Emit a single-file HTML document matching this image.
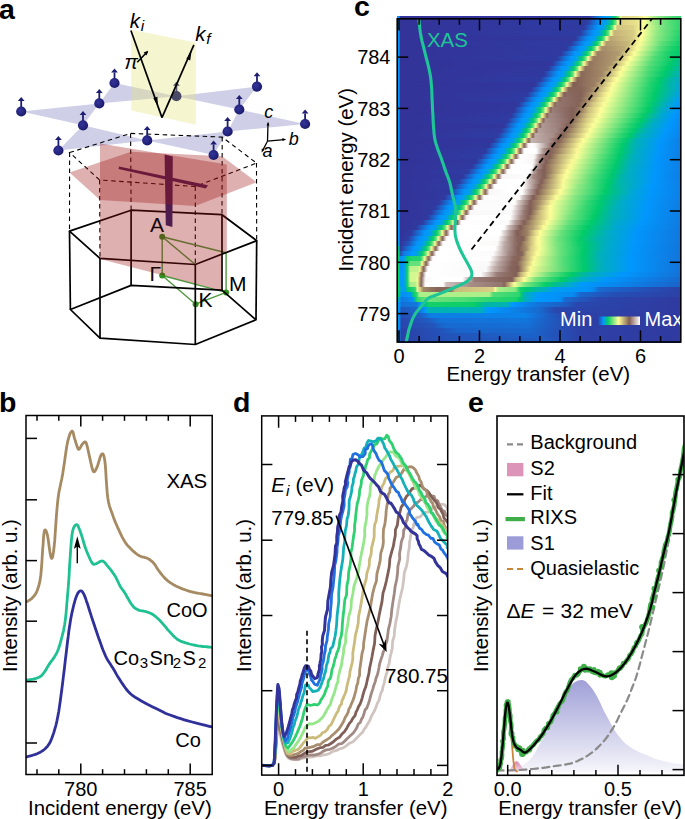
<!DOCTYPE html>
<html><head><meta charset="utf-8"><style>
html,body{margin:0;padding:0;background:#fff;width:685px;height:819px;overflow:hidden}
svg{display:block}
text{font-family:"Liberation Sans",sans-serif}
</style></head><body>
<svg width="685" height="819" viewBox="0 0 685 819">
<defs><radialGradient id="ball" cx="0.4" cy="0.4" r="0.65"><stop offset="0" stop-color="#34349a"/><stop offset="0.7" stop-color="#22227a"/><stop offset="1" stop-color="#15155a"/></radialGradient></defs>
<polygon points="21.2,111.5 99.3,103.4 83.0,125.3" fill="#a0a0d2" stroke="none" stroke-width="1" fill-opacity="0.5"/>
<polygon points="114.5,83.0 99.3,103.4 176.4,96.2" fill="#a0a0d2" stroke="none" stroke-width="1" fill-opacity="0.5"/>
<polygon points="257.0,86.6 176.4,96.2 239.3,109.5" fill="#a0a0d2" stroke="none" stroke-width="1" fill-opacity="0.5"/>
<polygon points="305.1,124.0 239.3,109.5 227.6,131.5" fill="#a0a0d2" stroke="none" stroke-width="1" fill-opacity="0.5"/>
<polygon points="213.6,155.0 227.6,131.5 147.2,140.4" fill="#a0a0d2" stroke="none" stroke-width="1" fill-opacity="0.5"/>
<polygon points="58.4,150.5 147.2,140.4 83.0,125.3" fill="#a0a0d2" stroke="none" stroke-width="1" fill-opacity="0.5"/>
<polygon points="69.6,152.5 130.6,133.4 222.2,137.1 256.5,163.1 195.3,186.5 99.6,180.0" fill="none" stroke="#000" stroke-width="1.1" stroke-dasharray="4.5,3.5"/>
<line x1="69.6" y1="152.5" x2="69.5" y2="231.1" stroke="#000" stroke-width="1.1" stroke-dasharray="4.5,3.5"/>
<line x1="130.6" y1="133.4" x2="131.1" y2="210.2" stroke="#000" stroke-width="1.1" stroke-dasharray="4.5,3.5"/>
<line x1="222.2" y1="137.1" x2="222.0" y2="214.7" stroke="#000" stroke-width="1.1" stroke-dasharray="4.5,3.5"/>
<line x1="256.5" y1="163.1" x2="256.7" y2="240.7" stroke="#000" stroke-width="1.1" stroke-dasharray="4.5,3.5"/>
<line x1="195.3" y1="186.5" x2="195.3" y2="264.5" stroke="#000" stroke-width="1.1" stroke-dasharray="4.5,3.5"/>
<line x1="99.6" y1="180.0" x2="100.0" y2="258.4" stroke="#000" stroke-width="1.1" stroke-dasharray="4.5,3.5"/>
<line x1="162.2" y1="236.8" x2="162.2" y2="275.5" stroke="#4e9a3e" stroke-width="1.4" />
<line x1="162.2" y1="236.8" x2="226.1" y2="252.8" stroke="#4e9a3e" stroke-width="1.4" />
<line x1="162.2" y1="236.8" x2="195.3" y2="264.5" stroke="#4e9a3e" stroke-width="1.4" />
<line x1="162.2" y1="275.5" x2="195.6" y2="304.2" stroke="#4e9a3e" stroke-width="1.4" />
<line x1="162.2" y1="275.5" x2="226.1" y2="292.4" stroke="#4e9a3e" stroke-width="1.4" />
<line x1="195.6" y1="304.2" x2="226.1" y2="292.4" stroke="#4e9a3e" stroke-width="1.4" />
<line x1="226.1" y1="252.8" x2="226.1" y2="292.4" stroke="#4e9a3e" stroke-width="1.4" />
<circle cx="162.2" cy="236.8" r="3" fill="#2f8f1f"/>
<circle cx="162.2" cy="275.5" r="3" fill="#2f8f1f"/>
<circle cx="195.6" cy="304.2" r="3" fill="#2f8f1f"/>
<circle cx="226.1" cy="292.4" r="3" fill="#2f8f1f"/>
<polygon points="69.5,231.1 131.1,210.2 222.0,214.7 256.7,240.7 195.3,264.5 100.0,258.4" fill="none" stroke="#000" stroke-width="1.7" stroke-linejoin="round"/>
<polygon points="70.4,309.5 131.1,285.4 222.0,290.2 256.0,319.8 195.3,344.5 100.0,338.1" fill="none" stroke="#000" stroke-width="1.7" stroke-linejoin="round"/>
<line x1="69.5" y1="231.1" x2="70.4" y2="309.5" stroke="#000" stroke-width="1.7" />
<line x1="131.1" y1="210.2" x2="131.1" y2="285.4" stroke="#000" stroke-width="1.7" />
<line x1="222.0" y1="214.7" x2="222.0" y2="290.2" stroke="#000" stroke-width="1.7" />
<line x1="256.7" y1="240.7" x2="256.0" y2="319.8" stroke="#000" stroke-width="1.7" />
<line x1="195.3" y1="264.5" x2="195.3" y2="344.5" stroke="#000" stroke-width="1.7" />
<line x1="100.0" y1="258.4" x2="100.0" y2="338.1" stroke="#000" stroke-width="1.7" />
<polygon points="164.6,154.5 172.8,156.5 172.4,227.0 165.8,225.3" fill="#2b246c" stroke="none" stroke-width="1" />
<polygon points="119.0,166.5 208.0,185.3 205.8,188.6 118.6,169.1" fill="#2b246c" stroke="none" stroke-width="1" />
<polygon points="100.0,143.6 226.8,164.5 226.8,252.3 222.0,252.3 222.0,290.5 100.0,259.0" fill="#9c1212" fill-opacity="0.333"/>
<polygon points="69.5,172.6 131.1,151.7 222.0,156.2 256.7,182.2 195.3,206.0 100.0,199.9" fill="#9c1212" fill-opacity="0.333"/>
<polygon points="131.0,29.8 195.9,42.5 195.9,124.7 131.4,110.4" fill="#e3e37d" fill-opacity="0.36"/>
<line x1="176.4" y1="92.2" x2="176.4" y2="85.60000000000001" stroke="#55556e" stroke-width="1.8"/>
<polygon points="173.0,85.8 179.8,85.8 176.4,81.8" fill="#55556e"/>
<circle cx="176.4" cy="96.2" r="5.1" fill="#4a4a66"/>
<line x1="21.2" y1="107.5" x2="21.2" y2="100.9" stroke="#1e1e70" stroke-width="1.8"/>
<polygon points="17.8,101.1 24.6,101.1 21.2,97.1" fill="#1e1e70"/>
<circle cx="21.2" cy="111.5" r="5.1" fill="url(#ball)"/>
<line x1="99.3" y1="99.4" x2="99.3" y2="92.8" stroke="#1e1e70" stroke-width="1.8"/>
<polygon points="95.9,93.0 102.7,93.0 99.3,89.0" fill="#1e1e70"/>
<circle cx="99.3" cy="103.4" r="5.1" fill="url(#ball)"/>
<line x1="114.5" y1="79.0" x2="114.5" y2="72.4" stroke="#1e1e70" stroke-width="1.8"/>
<polygon points="111.1,72.6 117.9,72.6 114.5,68.6" fill="#1e1e70"/>
<circle cx="114.5" cy="83.0" r="5.1" fill="url(#ball)"/>
<line x1="83.0" y1="121.3" x2="83.0" y2="114.7" stroke="#1e1e70" stroke-width="1.8"/>
<polygon points="79.6,114.9 86.4,114.9 83.0,110.9" fill="#1e1e70"/>
<circle cx="83.0" cy="125.3" r="5.1" fill="url(#ball)"/>
<line x1="58.4" y1="146.5" x2="58.4" y2="139.9" stroke="#1e1e70" stroke-width="1.8"/>
<polygon points="55.0,140.1 61.8,140.1 58.4,136.1" fill="#1e1e70"/>
<circle cx="58.4" cy="150.5" r="5.1" fill="url(#ball)"/>
<line x1="147.2" y1="136.4" x2="147.2" y2="129.8" stroke="#1e1e70" stroke-width="1.8"/>
<polygon points="143.8,130.0 150.6,130.0 147.2,126.0" fill="#1e1e70"/>
<circle cx="147.2" cy="140.4" r="5.1" fill="url(#ball)"/>
<line x1="257.0" y1="82.6" x2="257.0" y2="76.0" stroke="#1e1e70" stroke-width="1.8"/>
<polygon points="253.6,76.2 260.4,76.2 257.0,72.2" fill="#1e1e70"/>
<circle cx="257.0" cy="86.6" r="5.1" fill="url(#ball)"/>
<line x1="239.3" y1="105.5" x2="239.3" y2="98.9" stroke="#1e1e70" stroke-width="1.8"/>
<polygon points="235.9,99.1 242.7,99.1 239.3,95.1" fill="#1e1e70"/>
<circle cx="239.3" cy="109.5" r="5.1" fill="url(#ball)"/>
<line x1="227.6" y1="127.5" x2="227.6" y2="120.9" stroke="#1e1e70" stroke-width="1.8"/>
<polygon points="224.2,121.1 231.0,121.1 227.6,117.1" fill="#1e1e70"/>
<circle cx="227.6" cy="131.5" r="5.1" fill="url(#ball)"/>
<line x1="213.6" y1="151.0" x2="213.6" y2="144.4" stroke="#1e1e70" stroke-width="1.8"/>
<polygon points="210.2,144.6 217.0,144.6 213.6,140.6" fill="#1e1e70"/>
<circle cx="213.6" cy="155.0" r="5.1" fill="url(#ball)"/>
<line x1="305.1" y1="120.0" x2="305.1" y2="113.4" stroke="#1e1e70" stroke-width="1.8"/>
<polygon points="301.7,113.6 308.5,113.6 305.1,109.6" fill="#1e1e70"/>
<circle cx="305.1" cy="124.0" r="5.1" fill="url(#ball)"/>
<line x1="130.9" y1="30.5" x2="162.0" y2="117.6" stroke="#000" stroke-width="1.7" />
<polygon points="157.9,106.2 153.3,98.2 157.4,96.8" fill="#000" stroke="none" stroke-width="1" />
<line x1="162.0" y1="117.6" x2="193.9" y2="44.8" stroke="#000" stroke-width="1.7" />
<polygon points="191.6,50.8 186.4,58.8 190.2,60.5" fill="#000" stroke="none" stroke-width="1" />
<line x1="137.2" y1="62.2" x2="147.4" y2="51.8" stroke="#000" stroke-width="1.6" />
<polygon points="148.2,50.8 143.6,52.6 146.6,55.4" fill="#000" stroke="none" stroke-width="1" />
<text x="124.5" y="69" font-size="20" font-style="italic">π</text>
<text x="129.8" y="28.2" font-size="20.5" font-style="italic">k<tspan font-size="15.5" dx="0.8" dy="3">i</tspan></text>
<text x="195.2" y="41.4" font-size="20.5" font-style="italic">k<tspan font-size="15.5" dx="0.8" dy="3">f</tspan></text>
<text x="150.0" y="231.9" font-size="21" text-anchor="start" fill="#1a0808" >A</text>
<text x="149.4" y="280.9" font-size="21" text-anchor="start" fill="#1a0808" >Γ</text>
<text x="198.4" y="307.4" font-size="21" text-anchor="start" fill="#000" >K</text>
<text x="229.0" y="290.5" font-size="21" text-anchor="start" fill="#000" >M</text>
<line x1="267.5" y1="141.2" x2="268.0" y2="123.5" stroke="#000" stroke-width="1.3" />
<polygon points="268.1,121.4 266.6,125.6 269.4,125.6" fill="#000" stroke="none" stroke-width="1" />
<line x1="267.5" y1="141.2" x2="284.0" y2="139.6" stroke="#000" stroke-width="1.3" />
<polygon points="286.2,139.4 282.4,137.9 282.6,140.9" fill="#000" stroke="none" stroke-width="1" />
<line x1="267.5" y1="141.2" x2="262.6" y2="150.5" stroke="#000" stroke-width="1.3" />
<polygon points="261.6,152.4 261.8,148.4 264.4,149.8" fill="#000" stroke="none" stroke-width="1" />
<text x="264.2" y="117.5" font-size="18" font-style="italic">c</text>
<text x="288.8" y="145.2" font-size="18" font-style="italic">b</text>
<text x="262.5" y="156.8" font-size="18" font-style="italic">a</text>
<text x="-1" y="18.6" font-size="28.5" font-weight="bold">a</text>
<g clip-path="url(#clipb)">
<polyline points="26.8,601.7 27.4,601.3 28.2,600.9 29.2,600.3 30.2,599.6 31.3,598.9 32.2,598.0 33.1,597.1 33.9,596.1 34.8,595.0 35.6,593.8 36.4,592.4 37.1,590.7 37.8,588.8 38.5,586.8 39.1,584.6 39.7,582.2 40.2,579.3 40.7,576.0 41.1,572.0 41.5,567.2 41.9,562.1 42.2,557.0 42.5,552.2 42.8,548.0 43.1,544.3 43.3,540.8 43.5,537.5 43.8,534.7 44.1,532.5 44.4,531.0 44.8,530.2 45.2,529.9 45.7,530.3 46.2,531.2 46.7,532.6 47.3,534.6 47.9,537.7 48.6,542.1 49.2,547.1 49.9,551.9 50.6,555.7 51.2,557.8 51.7,558.4 52.2,558.0 52.7,556.6 53.1,554.3 53.6,551.1 54.1,546.8 54.7,540.9 55.2,533.3 55.8,524.6 56.4,515.8 57.1,507.5 57.8,500.5 58.5,495.0 59.3,490.3 60.2,486.2 61.0,482.3 61.9,478.2 62.7,473.7 63.5,468.5 64.4,462.7 65.2,456.9 66.0,451.2 66.8,446.1 67.6,442.0 68.4,438.8 69.2,436.1 69.9,434.0 70.7,432.5 71.4,431.6 72.0,431.1 72.6,431.4 73.1,432.4 73.5,434.0 73.9,435.9 74.4,437.8 74.9,439.5 75.5,441.2 76.0,443.2 76.7,445.2 77.3,447.1 77.9,448.5 78.5,449.3 79.1,449.3 79.7,448.6 80.3,447.6 81.0,446.4 81.6,445.2 82.2,444.4 82.8,443.7 83.4,442.9 84.1,442.2 84.7,441.8 85.3,441.8 85.9,442.4 86.5,443.8 87.1,445.9 87.7,448.5 88.3,451.2 88.9,454.0 89.5,456.6 90.1,459.2 90.7,462.1 91.4,465.0 92.0,467.7 92.6,469.8 93.2,471.2 93.8,471.8 94.4,471.7 94.9,471.2 95.5,470.2 96.1,469.0 96.8,467.6 97.6,465.7 98.4,463.1 99.3,460.2 100.1,457.4 101.0,455.3 101.7,454.1 102.3,453.8 102.9,453.9 103.4,454.7 103.9,456.1 104.4,458.3 104.9,461.5 105.4,466.1 105.8,472.2 106.2,479.1 106.7,486.2 107.2,492.7 107.8,498.0 108.5,502.0 109.3,505.3 110.1,508.1 111.0,510.5 111.9,512.8 112.7,515.1 113.5,517.4 114.3,519.5 115.0,521.4 115.8,523.3 116.7,525.2 117.6,527.3 118.7,529.6 119.8,532.1 121.0,534.6 122.2,537.1 123.5,539.4 124.7,541.5 125.9,543.3 127.1,544.9 128.3,546.3 129.6,547.6 130.8,548.8 132.0,550.0 133.2,551.1 134.4,552.2 135.6,553.2 136.8,554.1 138.0,554.9 139.3,555.7 140.7,556.3 142.2,556.8 143.7,557.2 145.2,557.6 146.6,558.0 147.9,558.6 149.1,559.3 150.2,560.0 151.2,560.8 152.2,561.6 153.1,562.5 154.0,563.5 154.8,564.6 155.6,565.7 156.3,566.9 157.1,568.2 157.9,569.5 158.8,570.8 159.9,572.2 161.0,573.6 162.2,575.1 163.5,576.6 164.8,578.1 166.2,579.4 167.6,580.6 169.1,581.8 170.6,582.9 172.2,583.9 174.0,585.0 175.9,586.0 178.1,587.0 180.5,588.1 183.1,589.1 185.7,590.0 188.2,590.9 190.6,591.6 192.8,592.2 195.0,592.7 197.0,593.0 199.0,593.4 201.0,593.7 202.8,594.0 204.6,594.3 206.4,594.7 208.2,595.0 209.7,595.3 211.0,595.5 212.0,595.7" fill="none" stroke="#a58a62" stroke-width="2.8" stroke-linejoin="round" stroke-linecap="round" />
<polyline points="26.8,680.0 27.7,679.9 28.8,679.8 30.2,679.6 31.7,679.4 33.2,679.2 34.6,678.8 35.9,678.4 37.1,678.0 38.3,677.6 39.6,677.0 40.8,676.2 42.0,675.1 43.2,673.7 44.4,672.0 45.7,670.1 46.9,668.0 48.1,666.0 49.3,664.1 50.5,662.3 51.8,660.6 53.1,658.9 54.3,657.1 55.5,655.2 56.6,653.2 57.6,651.0 58.5,648.7 59.3,646.2 60.1,643.7 60.8,641.1 61.5,638.5 62.2,635.9 62.8,633.4 63.5,630.8 64.0,628.0 64.6,624.9 65.1,621.5 65.6,617.4 66.1,612.8 66.5,607.9 66.9,603.0 67.3,598.5 67.6,594.6 67.9,591.5 68.1,589.0 68.3,586.9 68.4,584.8 68.6,582.6 68.8,580.0 69.0,577.1 69.2,574.0 69.3,570.8 69.5,567.4 69.7,563.8 70.0,560.0 70.3,555.6 70.6,550.6 71.0,545.3 71.4,540.3 71.9,535.8 72.4,532.2 73.0,529.6 73.7,527.6 74.4,526.2 75.2,525.3 75.9,524.8 76.6,524.6 77.2,524.9 77.9,525.7 78.5,526.9 79.1,528.4 79.8,530.2 80.5,532.2 81.3,534.5 82.2,537.3 83.1,540.4 84.0,543.5 84.9,546.6 85.9,549.3 86.9,551.9 88.0,554.5 89.1,557.0 90.1,559.3 91.1,561.2 92.0,562.7 92.7,563.7 93.3,564.2 93.8,564.3 94.3,564.3 94.8,564.1 95.6,563.9 96.6,563.6 97.7,562.9 98.9,562.2 100.1,561.5 101.3,561.1 102.4,561.0 103.4,561.4 104.2,562.0 105.1,562.9 105.9,563.9 106.8,565.1 107.8,566.3 108.9,567.7 110.2,569.2 111.5,570.9 112.8,572.7 114.0,574.4 115.1,576.1 116.1,577.8 116.9,579.5 117.7,581.2 118.5,582.8 119.2,584.4 120.0,585.9 120.8,587.2 121.5,588.2 122.2,589.2 122.9,590.2 123.8,591.4 124.7,592.8 125.8,594.6 127.0,596.7 128.3,599.0 129.6,601.3 130.8,603.3 132.0,605.0 133.1,606.3 134.0,607.3 135.0,608.1 135.9,608.8 137.0,609.3 138.1,609.9 139.4,610.4 140.8,610.7 142.3,610.9 143.8,611.2 145.2,611.4 146.6,611.8 147.9,612.3 149.2,612.7 150.4,613.2 151.6,613.8 152.8,614.5 154.0,615.3 155.2,616.2 156.4,617.3 157.7,618.4 158.9,619.6 160.1,620.8 161.3,622.1 162.5,623.4 163.7,624.8 164.9,626.2 166.1,627.7 167.3,629.2 168.6,630.6 170.0,632.1 171.4,633.6 172.8,635.2 174.3,636.7 175.8,638.0 177.2,639.2 178.6,640.1 179.9,640.8 181.2,641.4 182.6,641.9 184.1,642.4 185.7,642.9 187.5,643.4 189.4,644.0 191.4,644.5 193.6,645.0 195.7,645.4 197.9,645.8 200.3,646.1 203.0,646.5 205.7,646.7 208.3,647.0 210.4,647.2 212.0,647.3" fill="none" stroke="#1fc192" stroke-width="2.8" stroke-linejoin="round" stroke-linecap="round" />
<polyline points="26.8,756.8 27.9,756.5 29.5,756.1 31.4,755.6 33.4,755.0 35.4,754.4 37.1,753.7 38.6,753.0 40.2,752.2 41.6,751.4 43.0,750.5 44.3,749.5 45.6,748.3 46.8,747.1 47.8,745.8 48.8,744.4 49.8,742.8 50.7,740.9 51.7,738.5 52.7,735.7 53.8,732.6 54.8,729.1 55.9,725.3 56.9,721.1 57.8,716.6 58.7,711.7 59.5,706.4 60.3,700.7 61.1,694.8 61.9,688.7 62.7,682.4 63.5,675.7 64.4,668.5 65.2,661.1 66.1,653.8 66.9,647.0 67.6,641.0 68.3,635.9 68.8,631.4 69.4,627.4 70.0,623.7 70.5,620.2 71.2,616.6 71.9,612.9 72.8,609.2 73.6,605.7 74.5,602.4 75.3,599.5 76.1,597.1 76.9,595.2 77.6,593.6 78.4,592.4 79.1,591.6 79.8,591.0 80.5,590.8 81.2,590.8 81.8,591.2 82.4,591.8 83.1,592.8 83.8,594.2 84.6,595.9 85.5,598.1 86.4,600.9 87.5,603.9 88.5,607.3 89.6,610.7 90.7,614.1 91.8,617.6 93.0,621.2 94.3,625.0 95.5,628.8 96.8,632.5 98.0,636.1 99.2,639.6 100.5,643.1 101.7,646.5 102.9,649.7 104.2,652.8 105.4,655.6 106.6,658.1 107.8,660.2 109.1,662.2 110.3,664.0 111.5,665.9 112.7,667.8 113.9,669.8 115.1,671.8 116.2,673.9 117.4,675.9 118.7,677.9 120.0,680.0 121.4,682.2 122.9,684.4 124.5,686.7 126.1,689.0 127.8,691.0 129.5,692.9 131.3,694.5 133.1,695.9 135.0,697.2 136.9,698.3 138.9,699.5 141.0,700.7 143.2,702.0 145.5,703.2 147.9,704.5 150.3,705.7 152.7,706.9 155.0,708.0 157.1,709.1 159.1,710.1 161.1,711.1 163.1,712.1 165.3,713.2 167.9,714.2 170.8,715.3 173.9,716.4 177.3,717.6 180.7,718.7 184.3,719.8 188.0,720.9 192.1,722.0 196.6,723.2 201.3,724.3 205.6,725.4 209.3,726.3 212.0,726.9" fill="none" stroke="#30309a" stroke-width="2.8" stroke-linejoin="round" stroke-linecap="round" />
</g>
<defs><clipPath id="clipb"><rect x="26.0" y="415.5" width="186.2" height="359.0"/></clipPath></defs>
<line x1="77.3" y1="563.2" x2="77.3" y2="546.0" stroke="#000" stroke-width="1.4" />
<polygon points="77.3,536.2 73.9,548.7 77.3,546.5 80.7,548.7" fill="#000" stroke="none" stroke-width="1" />
<rect x="26.0" y="415.5" width="186.2" height="359.0" fill="none" stroke="#000" stroke-width="1.5"/>
<line x1="37.0" y1="415.5" x2="37.0" y2="420.8" stroke="#000" stroke-width="1.5" />
<line x1="37.0" y1="774.5" x2="37.0" y2="769.2" stroke="#000" stroke-width="1.5" />
<line x1="58.8" y1="415.5" x2="58.8" y2="420.8" stroke="#000" stroke-width="1.5" />
<line x1="58.8" y1="774.5" x2="58.8" y2="769.2" stroke="#000" stroke-width="1.5" />
<line x1="80.8" y1="415.5" x2="80.8" y2="426.5" stroke="#000" stroke-width="1.5" />
<line x1="80.8" y1="774.5" x2="80.8" y2="763.5" stroke="#000" stroke-width="1.5" />
<line x1="102.6" y1="415.5" x2="102.6" y2="420.8" stroke="#000" stroke-width="1.5" />
<line x1="102.6" y1="774.5" x2="102.6" y2="769.2" stroke="#000" stroke-width="1.5" />
<line x1="124.5" y1="415.5" x2="124.5" y2="420.8" stroke="#000" stroke-width="1.5" />
<line x1="124.5" y1="774.5" x2="124.5" y2="769.2" stroke="#000" stroke-width="1.5" />
<line x1="146.4" y1="415.5" x2="146.4" y2="420.8" stroke="#000" stroke-width="1.5" />
<line x1="146.4" y1="774.5" x2="146.4" y2="769.2" stroke="#000" stroke-width="1.5" />
<line x1="168.3" y1="415.5" x2="168.3" y2="420.8" stroke="#000" stroke-width="1.5" />
<line x1="168.3" y1="774.5" x2="168.3" y2="769.2" stroke="#000" stroke-width="1.5" />
<line x1="190.2" y1="415.5" x2="190.2" y2="426.5" stroke="#000" stroke-width="1.5" />
<line x1="190.2" y1="774.5" x2="190.2" y2="763.5" stroke="#000" stroke-width="1.5" />
<line x1="26.0" y1="438.4" x2="37.0" y2="438.4" stroke="#000" stroke-width="1.5" />
<line x1="26.0" y1="499.8" x2="37.0" y2="499.8" stroke="#000" stroke-width="1.5" />
<line x1="26.0" y1="560.6" x2="37.0" y2="560.6" stroke="#000" stroke-width="1.5" />
<line x1="26.0" y1="621.2" x2="37.0" y2="621.2" stroke="#000" stroke-width="1.5" />
<line x1="26.0" y1="681.6" x2="37.0" y2="681.6" stroke="#000" stroke-width="1.5" />
<line x1="26.0" y1="743.0" x2="37.0" y2="743.0" stroke="#000" stroke-width="1.5" />
<text x="80.8" y="796.3" font-size="20" text-anchor="middle" fill="#000" >780</text>
<text x="190.2" y="796.3" font-size="20" text-anchor="middle" fill="#000" >785</text>
<text x="119.9" y="814.7" font-size="20.4" text-anchor="middle" fill="#000" >Incident energy (eV)</text>
<text transform="translate(17.4,595.6) rotate(-90)" font-size="20.4" text-anchor="middle">Intensity (arb. u.)</text>
<text x="166.5" y="616.5" font-size="20" text-anchor="start" fill="#000" >CoO</text>
<text x="186.8" y="487.7" font-size="20.4" text-anchor="middle" fill="#000" >XAS</text>
<text y="664.5" font-size="20"><tspan x="113.6">Co</tspan><tspan x="139.8" font-size="15" dy="3.3">3</tspan><tspan x="149.6" dy="-3.3">Sn</tspan><tspan x="172.7" font-size="15" dy="3.3">2</tspan><tspan x="182.6" dy="-3.3">S</tspan><tspan x="198" font-size="15" dy="3.3">2</tspan></text>
<text x="175.3" y="747.0" font-size="20" text-anchor="start" fill="#000" >Co</text>
<text x="-1" y="411.5" font-size="28.5" font-weight="bold">b</text>
<defs>
<linearGradient id="h0" x1="0" x2="1" y1="0" y2="0"><stop offset="0.0000" stop-color="#0392f8"/><stop offset="0.0071" stop-color="#068df3"/><stop offset="0.0141" stop-color="#2c41a7"/><stop offset="0.1834" stop-color="#2254ba"/><stop offset="0.5148" stop-color="#1f5cc2"/><stop offset="0.6488" stop-color="#2d40a6"/><stop offset="1.0014" stop-color="#303aa0"/></linearGradient>
<linearGradient id="h1" x1="0" x2="1" y1="0" y2="0"><stop offset="0.0000" stop-color="#0392f8"/><stop offset="0.0071" stop-color="#058ef4"/><stop offset="0.0141" stop-color="#2c41a7"/><stop offset="0.1728" stop-color="#2353b9"/><stop offset="0.4725" stop-color="#1b63c9"/><stop offset="0.6523" stop-color="#2d40a6"/><stop offset="1.0014" stop-color="#303aa0"/></linearGradient>
<linearGradient id="h2" x1="0" x2="1" y1="0" y2="0"><stop offset="0.0000" stop-color="#0392f8"/><stop offset="0.0071" stop-color="#0590f6"/><stop offset="0.0141" stop-color="#2c41a7"/><stop offset="0.1516" stop-color="#2353b9"/><stop offset="0.2151" stop-color="#1a65cb"/><stop offset="0.4654" stop-color="#1868ce"/><stop offset="0.6453" stop-color="#2d40a6"/><stop offset="1.0014" stop-color="#303aa0"/></linearGradient>
<linearGradient id="h3" x1="0" x2="1" y1="0" y2="0"><stop offset="0.0000" stop-color="#0392f8"/><stop offset="0.0071" stop-color="#0492f8"/><stop offset="0.0141" stop-color="#2947ad"/><stop offset="0.1234" stop-color="#2354ba"/><stop offset="0.1657" stop-color="#176ad0"/><stop offset="0.4584" stop-color="#156fd5"/><stop offset="0.6382" stop-color="#2d40a6"/><stop offset="1.0014" stop-color="#303aa0"/></linearGradient>
<linearGradient id="h4" x1="0" x2="1" y1="0" y2="0"><stop offset="0.0000" stop-color="#0393f9"/><stop offset="0.0071" stop-color="#0393f9"/><stop offset="0.0141" stop-color="#2947ad"/><stop offset="0.1058" stop-color="#205ac0"/><stop offset="0.1516" stop-color="#1471d7"/><stop offset="0.4513" stop-color="#1176dc"/><stop offset="0.6347" stop-color="#2c40a6"/><stop offset="1.0014" stop-color="#303aa0"/></linearGradient>
<linearGradient id="h5" x1="0" x2="1" y1="0" y2="0"><stop offset="0.0000" stop-color="#0295fb"/><stop offset="0.0071" stop-color="#0295fb"/><stop offset="0.0141" stop-color="#254eb4"/><stop offset="0.0776" stop-color="#1e5dc3"/><stop offset="0.1164" stop-color="#0d7ee4"/><stop offset="0.4478" stop-color="#0b83e9"/><stop offset="0.5994" stop-color="#2c42a8"/><stop offset="1.0014" stop-color="#303aa0"/></linearGradient>
<linearGradient id="h6" x1="0" x2="1" y1="0" y2="0"><stop offset="0.0000" stop-color="#0197fd"/><stop offset="0.0071" stop-color="#0197fd"/><stop offset="0.0141" stop-color="#2255bb"/><stop offset="0.0705" stop-color="#1966cc"/><stop offset="0.0987" stop-color="#0197fd"/><stop offset="0.1128" stop-color="#00b3b2"/><stop offset="0.2927" stop-color="#00b0b9"/><stop offset="0.3209" stop-color="#0099ff"/><stop offset="0.5007" stop-color="#176ad0"/><stop offset="0.5606" stop-color="#2947ad"/><stop offset="1.0014" stop-color="#303aa0"/></linearGradient>
<linearGradient id="h7" x1="0" x2="1" y1="0" y2="0"><stop offset="0.0000" stop-color="#0099ff"/><stop offset="0.0071" stop-color="#0098fe"/><stop offset="0.0141" stop-color="#1470d6"/><stop offset="0.0705" stop-color="#1178de"/><stop offset="0.0811" stop-color="#0198fe"/><stop offset="0.1023" stop-color="#00c872"/><stop offset="0.1128" stop-color="#14d06a"/><stop offset="0.2680" stop-color="#0cce68"/><stop offset="0.2821" stop-color="#00c873"/><stop offset="0.3103" stop-color="#00b7a4"/><stop offset="0.3879" stop-color="#00b3b2"/><stop offset="0.4055" stop-color="#0099ff"/><stop offset="0.4972" stop-color="#1374da"/><stop offset="0.5889" stop-color="#1e5ec4"/><stop offset="0.6347" stop-color="#2947ad"/><stop offset="1.0014" stop-color="#303aa0"/></linearGradient>
<linearGradient id="h8" x1="0" x2="1" y1="0" y2="0"><stop offset="0.0000" stop-color="#00b3b2"/><stop offset="0.0071" stop-color="#00adc2"/><stop offset="0.0106" stop-color="#0392f8"/><stop offset="0.0141" stop-color="#1177dd"/><stop offset="0.0564" stop-color="#058ff5"/><stop offset="0.0599" stop-color="#00a7d6"/><stop offset="0.0635" stop-color="#00bc95"/><stop offset="0.0670" stop-color="#0cce68"/><stop offset="0.0705" stop-color="#34d670"/><stop offset="0.1093" stop-color="#70e27c"/><stop offset="0.2468" stop-color="#4cdb75"/><stop offset="0.3315" stop-color="#2cd56f"/><stop offset="0.4196" stop-color="#1ad16b"/><stop offset="0.4302" stop-color="#00ca6d"/><stop offset="0.4513" stop-color="#00afbc"/><stop offset="0.4937" stop-color="#0099ff"/><stop offset="0.5748" stop-color="#0490f6"/><stop offset="0.5924" stop-color="#1869cf"/><stop offset="0.7087" stop-color="#2a46ac"/><stop offset="1.0014" stop-color="#303aa0"/></linearGradient>
<linearGradient id="h9" x1="0" x2="1" y1="0" y2="0"><stop offset="0.0000" stop-color="#0ace68"/><stop offset="0.0071" stop-color="#00cb6a"/><stop offset="0.0106" stop-color="#00aacd"/><stop offset="0.0141" stop-color="#078cf2"/><stop offset="0.0494" stop-color="#009cf5"/><stop offset="0.0564" stop-color="#01cc66"/><stop offset="0.0705" stop-color="#38d771"/><stop offset="0.0776" stop-color="#adef89"/><stop offset="0.3244" stop-color="#adef89"/><stop offset="0.3385" stop-color="#51dc76"/><stop offset="0.3949" stop-color="#3bd872"/><stop offset="0.4302" stop-color="#2ed56f"/><stop offset="0.4372" stop-color="#03cd67"/><stop offset="0.4478" stop-color="#00b2b5"/><stop offset="0.5007" stop-color="#0099ff"/><stop offset="0.6206" stop-color="#078bf1"/><stop offset="0.6453" stop-color="#1868ce"/><stop offset="0.7616" stop-color="#254fb5"/><stop offset="1.0014" stop-color="#2c41a7"/></linearGradient>
<linearGradient id="h10" x1="0" x2="1" y1="0" y2="0"><stop offset="0.0000" stop-color="#0ace68"/><stop offset="0.0071" stop-color="#0ace68"/><stop offset="0.0141" stop-color="#0099fe"/><stop offset="0.0282" stop-color="#00a2e4"/><stop offset="0.0317" stop-color="#00afbc"/><stop offset="0.0353" stop-color="#01cc66"/><stop offset="0.0635" stop-color="#2fd56f"/><stop offset="0.0670" stop-color="#7ee57f"/><stop offset="0.0705" stop-color="#f9f896"/><stop offset="0.0846" stop-color="#c6b77a"/><stop offset="0.0917" stop-color="#a38967"/><stop offset="0.1410" stop-color="#866458"/><stop offset="0.1904" stop-color="#8f6f5c"/><stop offset="0.2045" stop-color="#cabb7c"/><stop offset="0.3385" stop-color="#dbd186"/><stop offset="0.3456" stop-color="#faf996"/><stop offset="0.3526" stop-color="#bdf28c"/><stop offset="0.3597" stop-color="#aaee88"/><stop offset="0.4161" stop-color="#86e781"/><stop offset="0.4231" stop-color="#5bde78"/><stop offset="0.4337" stop-color="#12d06a"/><stop offset="0.4549" stop-color="#00c970"/><stop offset="0.4901" stop-color="#00b99f"/><stop offset="0.5254" stop-color="#00adc4"/><stop offset="0.5501" stop-color="#009ef1"/><stop offset="0.6664" stop-color="#0294fa"/><stop offset="0.6911" stop-color="#078bf1"/><stop offset="0.7123" stop-color="#1869cf"/><stop offset="0.8850" stop-color="#254fb5"/><stop offset="1.0014" stop-color="#2c41a7"/></linearGradient>
<linearGradient id="h11" x1="0" x2="1" y1="0" y2="0"><stop offset="0.0000" stop-color="#0ace68"/><stop offset="0.0071" stop-color="#0ace68"/><stop offset="0.0106" stop-color="#0197fd"/><stop offset="0.0247" stop-color="#009fed"/><stop offset="0.0353" stop-color="#08ce68"/><stop offset="0.0458" stop-color="#aaee88"/><stop offset="0.0670" stop-color="#b6f08a"/><stop offset="0.0705" stop-color="#fdff99"/><stop offset="0.0846" stop-color="#815e55"/><stop offset="0.0987" stop-color="#fdfcfc"/><stop offset="0.1622" stop-color="#ffffff"/><stop offset="0.1728" stop-color="#ccbebb"/><stop offset="0.2327" stop-color="#b49f9b"/><stop offset="0.2574" stop-color="#a68d88"/><stop offset="0.3702" stop-color="#93756f"/><stop offset="0.3773" stop-color="#856357"/><stop offset="0.4126" stop-color="#fafe98"/><stop offset="0.4513" stop-color="#7ce57f"/><stop offset="0.5254" stop-color="#05cd67"/><stop offset="0.6523" stop-color="#0099ff"/><stop offset="1.0014" stop-color="#1b63c9"/></linearGradient>
<linearGradient id="h12" x1="0" x2="1" y1="0" y2="0"><stop offset="0.0000" stop-color="#0ace68"/><stop offset="0.0071" stop-color="#0ace68"/><stop offset="0.0106" stop-color="#0196fc"/><stop offset="0.0247" stop-color="#009fed"/><stop offset="0.0353" stop-color="#0ace68"/><stop offset="0.0458" stop-color="#d2f690"/><stop offset="0.0670" stop-color="#d6f791"/><stop offset="0.0705" stop-color="#f2fc96"/><stop offset="0.0740" stop-color="#e5de8b"/><stop offset="0.0846" stop-color="#866458"/><stop offset="0.0917" stop-color="#b8a4a0"/><stop offset="0.0987" stop-color="#f8f5f5"/><stop offset="0.1305" stop-color="#ffffff"/><stop offset="0.2292" stop-color="#ffffff"/><stop offset="0.2715" stop-color="#997c76"/><stop offset="0.4055" stop-color="#815d56"/><stop offset="0.4196" stop-color="#c3b379"/><stop offset="0.4478" stop-color="#fdfd98"/><stop offset="0.4866" stop-color="#7fe57f"/><stop offset="0.5818" stop-color="#00cc67"/><stop offset="0.6488" stop-color="#00aec1"/><stop offset="0.7334" stop-color="#0197fd"/><stop offset="1.0014" stop-color="#176ad0"/></linearGradient>
<linearGradient id="h13" x1="0" x2="1" y1="0" y2="0"><stop offset="0.0000" stop-color="#0ace68"/><stop offset="0.0071" stop-color="#0ace68"/><stop offset="0.0106" stop-color="#0295fb"/><stop offset="0.0212" stop-color="#009afb"/><stop offset="0.0247" stop-color="#009fed"/><stop offset="0.0353" stop-color="#0ace68"/><stop offset="0.0458" stop-color="#d2f690"/><stop offset="0.0705" stop-color="#d6f791"/><stop offset="0.0740" stop-color="#f4f093"/><stop offset="0.0846" stop-color="#94775f"/><stop offset="0.0882" stop-color="#8a6a62"/><stop offset="0.0987" stop-color="#e9e3e2"/><stop offset="0.1023" stop-color="#ffffff"/><stop offset="0.2962" stop-color="#fbfafa"/><stop offset="0.3526" stop-color="#987b75"/><stop offset="0.4196" stop-color="#825f55"/><stop offset="0.4372" stop-color="#c7b87b"/><stop offset="0.4619" stop-color="#fdfc98"/><stop offset="0.5360" stop-color="#6ae17b"/><stop offset="0.6135" stop-color="#02cc66"/><stop offset="0.6841" stop-color="#00afbd"/><stop offset="0.7934" stop-color="#0197fd"/><stop offset="1.0014" stop-color="#1472d8"/></linearGradient>
<linearGradient id="h14" x1="0" x2="1" y1="0" y2="0"><stop offset="0.0000" stop-color="#0ace68"/><stop offset="0.0071" stop-color="#0ace68"/><stop offset="0.0106" stop-color="#0491f7"/><stop offset="0.0212" stop-color="#0198fe"/><stop offset="0.0247" stop-color="#009fed"/><stop offset="0.0353" stop-color="#09ce68"/><stop offset="0.0458" stop-color="#bef28c"/><stop offset="0.0740" stop-color="#c2f38d"/><stop offset="0.0776" stop-color="#e2f993"/><stop offset="0.0811" stop-color="#ece78f"/><stop offset="0.0917" stop-color="#8d6d5c"/><stop offset="0.0952" stop-color="#91736c"/><stop offset="0.1058" stop-color="#f0ecec"/><stop offset="0.1093" stop-color="#ffffff"/><stop offset="0.3138" stop-color="#faf9f9"/><stop offset="0.3420" stop-color="#c3b2ae"/><stop offset="0.3984" stop-color="#88665f"/><stop offset="0.4267" stop-color="#805c54"/><stop offset="0.4690" stop-color="#faf996"/><stop offset="0.6171" stop-color="#2dd56f"/><stop offset="0.6594" stop-color="#00ca6c"/><stop offset="0.7158" stop-color="#00b0bb"/><stop offset="0.8251" stop-color="#0197fd"/><stop offset="1.0014" stop-color="#1374da"/></linearGradient>
<linearGradient id="h15" x1="0" x2="1" y1="0" y2="0"><stop offset="0.0000" stop-color="#0ace68"/><stop offset="0.0071" stop-color="#0ace68"/><stop offset="0.0106" stop-color="#058ff5"/><stop offset="0.0212" stop-color="#0197fd"/><stop offset="0.0247" stop-color="#009fed"/><stop offset="0.0353" stop-color="#05cd67"/><stop offset="0.0458" stop-color="#64e07a"/><stop offset="0.0776" stop-color="#66e07a"/><stop offset="0.0811" stop-color="#7ee57f"/><stop offset="0.0846" stop-color="#c5f38d"/><stop offset="0.0882" stop-color="#f9f896"/><stop offset="0.0987" stop-color="#9a7e63"/><stop offset="0.1023" stop-color="#84625b"/><stop offset="0.1164" stop-color="#ffffff"/><stop offset="0.3209" stop-color="#fbfafa"/><stop offset="0.3561" stop-color="#bba8a4"/><stop offset="0.4055" stop-color="#87655e"/><stop offset="0.4231" stop-color="#846156"/><stop offset="0.4513" stop-color="#c0ae77"/><stop offset="0.4795" stop-color="#fbfe98"/><stop offset="0.5853" stop-color="#54dd77"/><stop offset="0.6594" stop-color="#00c96e"/><stop offset="0.7264" stop-color="#00adc3"/><stop offset="0.8251" stop-color="#0197fd"/><stop offset="1.0014" stop-color="#1274da"/></linearGradient>
<linearGradient id="h16" x1="0" x2="1" y1="0" y2="0"><stop offset="0.0000" stop-color="#0ace68"/><stop offset="0.0071" stop-color="#0ace68"/><stop offset="0.0106" stop-color="#058ff5"/><stop offset="0.0212" stop-color="#0197fd"/><stop offset="0.0247" stop-color="#009fed"/><stop offset="0.0353" stop-color="#01cc66"/><stop offset="0.0494" stop-color="#1fd26c"/><stop offset="0.0811" stop-color="#22d36d"/><stop offset="0.0882" stop-color="#64e07a"/><stop offset="0.0952" stop-color="#e3f993"/><stop offset="0.0987" stop-color="#ece78f"/><stop offset="0.1093" stop-color="#8d6d5b"/><stop offset="0.1128" stop-color="#92736d"/><stop offset="0.1234" stop-color="#f1edec"/><stop offset="0.1269" stop-color="#ffffff"/><stop offset="0.3279" stop-color="#fefdfd"/><stop offset="0.3667" stop-color="#b8a4a0"/><stop offset="0.4126" stop-color="#86655d"/><stop offset="0.4302" stop-color="#866457"/><stop offset="0.4831" stop-color="#fbf997"/><stop offset="0.5924" stop-color="#4adb75"/><stop offset="0.6559" stop-color="#00ca6b"/><stop offset="0.7193" stop-color="#00afbe"/><stop offset="0.8251" stop-color="#0197fd"/><stop offset="1.0014" stop-color="#1275db"/></linearGradient>
<linearGradient id="h17" x1="0" x2="1" y1="0" y2="0"><stop offset="0.0000" stop-color="#0ace68"/><stop offset="0.0071" stop-color="#0ace68"/><stop offset="0.0106" stop-color="#264cb2"/><stop offset="0.0247" stop-color="#0e7de3"/><stop offset="0.0529" stop-color="#0099ff"/><stop offset="0.0670" stop-color="#00a0e9"/><stop offset="0.0882" stop-color="#05cd67"/><stop offset="0.0987" stop-color="#59de78"/><stop offset="0.1023" stop-color="#85e781"/><stop offset="0.1058" stop-color="#ccf58f"/><stop offset="0.1093" stop-color="#f6f394"/><stop offset="0.1199" stop-color="#977a61"/><stop offset="0.1234" stop-color="#88665f"/><stop offset="0.1375" stop-color="#ffffff"/><stop offset="0.3385" stop-color="#fcfbfb"/><stop offset="0.3949" stop-color="#a08580"/><stop offset="0.4267" stop-color="#84625b"/><stop offset="0.4408" stop-color="#866558"/><stop offset="0.4584" stop-color="#c6b67a"/><stop offset="0.4937" stop-color="#fefe98"/><stop offset="0.5783" stop-color="#64e07a"/><stop offset="0.6559" stop-color="#00cb69"/><stop offset="0.7158" stop-color="#00b0ba"/><stop offset="0.8286" stop-color="#0196fc"/><stop offset="1.0014" stop-color="#1275db"/></linearGradient>
<linearGradient id="h18" x1="0" x2="1" y1="0" y2="0"><stop offset="0.0000" stop-color="#00bd92"/><stop offset="0.0071" stop-color="#00bd92"/><stop offset="0.0106" stop-color="#30389e"/><stop offset="0.0458" stop-color="#0d7ee4"/><stop offset="0.0599" stop-color="#0296fc"/><stop offset="0.0776" stop-color="#009ef1"/><stop offset="0.0952" stop-color="#00bf8c"/><stop offset="0.1023" stop-color="#0ace68"/><stop offset="0.1128" stop-color="#63e07a"/><stop offset="0.1199" stop-color="#e2f993"/><stop offset="0.1234" stop-color="#ece78f"/><stop offset="0.1340" stop-color="#8d6d5b"/><stop offset="0.1375" stop-color="#92736c"/><stop offset="0.1481" stop-color="#f1edec"/><stop offset="0.1516" stop-color="#ffffff"/><stop offset="0.3456" stop-color="#ffffff"/><stop offset="0.3773" stop-color="#bca9a5"/><stop offset="0.4267" stop-color="#805d55"/><stop offset="0.4549" stop-color="#a68d69"/><stop offset="0.4725" stop-color="#d9cf85"/><stop offset="0.5007" stop-color="#f9fe98"/><stop offset="0.5748" stop-color="#68e17b"/><stop offset="0.6594" stop-color="#00ca6c"/><stop offset="0.7334" stop-color="#00adc4"/><stop offset="0.8322" stop-color="#0196fc"/><stop offset="1.0014" stop-color="#1176dc"/></linearGradient>
<linearGradient id="h19" x1="0" x2="1" y1="0" y2="0"><stop offset="0.0000" stop-color="#00a1e6"/><stop offset="0.0071" stop-color="#00a1e6"/><stop offset="0.0106" stop-color="#333399"/><stop offset="0.0388" stop-color="#2352b8"/><stop offset="0.0705" stop-color="#0295fb"/><stop offset="0.0882" stop-color="#009df2"/><stop offset="0.1058" stop-color="#00bd92"/><stop offset="0.1128" stop-color="#06cd67"/><stop offset="0.1234" stop-color="#5cde78"/><stop offset="0.1269" stop-color="#8ce882"/><stop offset="0.1305" stop-color="#d3f690"/><stop offset="0.1340" stop-color="#f3f093"/><stop offset="0.1446" stop-color="#94765f"/><stop offset="0.1481" stop-color="#8b6a63"/><stop offset="0.1587" stop-color="#eae4e2"/><stop offset="0.1622" stop-color="#ffffff"/><stop offset="0.3526" stop-color="#fbfaf9"/><stop offset="0.3773" stop-color="#c0aeab"/><stop offset="0.4126" stop-color="#92736c"/><stop offset="0.4337" stop-color="#815d55"/><stop offset="0.4901" stop-color="#f4f193"/><stop offset="0.5007" stop-color="#fafe98"/><stop offset="0.5571" stop-color="#83e680"/><stop offset="0.6382" stop-color="#11cf69"/><stop offset="0.6629" stop-color="#00c872"/><stop offset="0.7405" stop-color="#00acc7"/><stop offset="0.8357" stop-color="#0196fc"/><stop offset="1.0014" stop-color="#1177dd"/></linearGradient>
<linearGradient id="h20" x1="0" x2="1" y1="0" y2="0"><stop offset="0.0000" stop-color="#0099ff"/><stop offset="0.0071" stop-color="#0099ff"/><stop offset="0.0106" stop-color="#333399"/><stop offset="0.0388" stop-color="#2d3ea4"/><stop offset="0.0705" stop-color="#0d80e6"/><stop offset="0.0846" stop-color="#0196fc"/><stop offset="0.1023" stop-color="#009ef0"/><stop offset="0.1199" stop-color="#00c188"/><stop offset="0.1234" stop-color="#00ca6d"/><stop offset="0.1305" stop-color="#27d46e"/><stop offset="0.1375" stop-color="#69e17b"/><stop offset="0.1446" stop-color="#eefc96"/><stop offset="0.1481" stop-color="#e7e08c"/><stop offset="0.1587" stop-color="#886759"/><stop offset="0.1622" stop-color="#977973"/><stop offset="0.1728" stop-color="#f6f3f2"/><stop offset="0.1834" stop-color="#ffffff"/><stop offset="0.3561" stop-color="#fdfdfd"/><stop offset="0.3949" stop-color="#a68e88"/><stop offset="0.4231" stop-color="#87655e"/><stop offset="0.4443" stop-color="#825f56"/><stop offset="0.4725" stop-color="#d0c380"/><stop offset="0.4972" stop-color="#fffe99"/><stop offset="0.5677" stop-color="#6ee27c"/><stop offset="0.6453" stop-color="#06cd67"/><stop offset="0.7087" stop-color="#00b4ad"/><stop offset="0.8357" stop-color="#0197fd"/><stop offset="1.0014" stop-color="#1178de"/></linearGradient>
<linearGradient id="h21" x1="0" x2="1" y1="0" y2="0"><stop offset="0.0000" stop-color="#0099ff"/><stop offset="0.0071" stop-color="#0099ff"/><stop offset="0.0106" stop-color="#333399"/><stop offset="0.0494" stop-color="#2f3ba1"/><stop offset="0.0811" stop-color="#107ae0"/><stop offset="0.0987" stop-color="#0197fd"/><stop offset="0.1164" stop-color="#009fec"/><stop offset="0.1305" stop-color="#00bb98"/><stop offset="0.1375" stop-color="#02cc66"/><stop offset="0.1446" stop-color="#34d670"/><stop offset="0.1516" stop-color="#7ae47e"/><stop offset="0.1587" stop-color="#fbfa97"/><stop offset="0.1728" stop-color="#836059"/><stop offset="0.1869" stop-color="#ffffff"/><stop offset="0.3632" stop-color="#ffffff"/><stop offset="0.3949" stop-color="#b39e9a"/><stop offset="0.4231" stop-color="#805d55"/><stop offset="0.4584" stop-color="#9c8164"/><stop offset="0.4866" stop-color="#e0d788"/><stop offset="0.5042" stop-color="#fdfd98"/><stop offset="0.5818" stop-color="#62e07a"/><stop offset="0.6559" stop-color="#01cc66"/><stop offset="0.7475" stop-color="#00acc7"/><stop offset="0.8427" stop-color="#0196fc"/><stop offset="1.0014" stop-color="#1078de"/></linearGradient>
<linearGradient id="h22" x1="0" x2="1" y1="0" y2="0"><stop offset="0.0000" stop-color="#0099ff"/><stop offset="0.0071" stop-color="#0099ff"/><stop offset="0.0106" stop-color="#333399"/><stop offset="0.0670" stop-color="#31389e"/><stop offset="0.1023" stop-color="#0d7fe5"/><stop offset="0.1164" stop-color="#0296fc"/><stop offset="0.1340" stop-color="#009ef1"/><stop offset="0.1516" stop-color="#00c08b"/><stop offset="0.1551" stop-color="#00c970"/><stop offset="0.1622" stop-color="#24d36d"/><stop offset="0.1693" stop-color="#65e07a"/><stop offset="0.1763" stop-color="#e6fa94"/><stop offset="0.1798" stop-color="#ebe58e"/><stop offset="0.1904" stop-color="#8c6b5b"/><stop offset="0.1939" stop-color="#93756e"/><stop offset="0.2045" stop-color="#f2efee"/><stop offset="0.2116" stop-color="#ffffff"/><stop offset="0.3773" stop-color="#ffffff"/><stop offset="0.3949" stop-color="#cabbb8"/><stop offset="0.4337" stop-color="#805c55"/><stop offset="0.4795" stop-color="#b7a372"/><stop offset="0.5148" stop-color="#faf896"/><stop offset="0.5219" stop-color="#f4fd97"/><stop offset="0.5959" stop-color="#60df79"/><stop offset="0.6700" stop-color="#00cb68"/><stop offset="0.7687" stop-color="#00a9ce"/><stop offset="0.8533" stop-color="#0196fc"/><stop offset="1.0014" stop-color="#107ae0"/></linearGradient>
<linearGradient id="h23" x1="0" x2="1" y1="0" y2="0"><stop offset="0.0000" stop-color="#0098fe"/><stop offset="0.0071" stop-color="#0098fe"/><stop offset="0.0106" stop-color="#333399"/><stop offset="0.0882" stop-color="#303aa0"/><stop offset="0.1199" stop-color="#1079df"/><stop offset="0.1375" stop-color="#0197fd"/><stop offset="0.1551" stop-color="#009fee"/><stop offset="0.1728" stop-color="#00c381"/><stop offset="0.1763" stop-color="#00cc66"/><stop offset="0.1834" stop-color="#30d670"/><stop offset="0.1904" stop-color="#73e37d"/><stop offset="0.1975" stop-color="#fefe99"/><stop offset="0.2116" stop-color="#805c54"/><stop offset="0.2257" stop-color="#fefefe"/><stop offset="0.3914" stop-color="#fcfbfb"/><stop offset="0.4161" stop-color="#b6a29d"/><stop offset="0.4478" stop-color="#825e55"/><stop offset="0.4831" stop-color="#b7a372"/><stop offset="0.5289" stop-color="#fdfd98"/><stop offset="0.6065" stop-color="#64e07a"/><stop offset="0.6841" stop-color="#00cb6a"/><stop offset="0.7652" stop-color="#00acc5"/><stop offset="0.8639" stop-color="#0197fd"/><stop offset="1.0014" stop-color="#0f7be1"/></linearGradient>
<linearGradient id="h24" x1="0" x2="1" y1="0" y2="0"><stop offset="0.0000" stop-color="#0098fe"/><stop offset="0.0071" stop-color="#0098fe"/><stop offset="0.0106" stop-color="#333399"/><stop offset="0.1058" stop-color="#30389e"/><stop offset="0.1375" stop-color="#1276dc"/><stop offset="0.1516" stop-color="#0294fa"/><stop offset="0.1728" stop-color="#009ef0"/><stop offset="0.1904" stop-color="#00c188"/><stop offset="0.1939" stop-color="#00ca6d"/><stop offset="0.2010" stop-color="#27d46e"/><stop offset="0.2080" stop-color="#68e17b"/><stop offset="0.2151" stop-color="#edfb95"/><stop offset="0.2186" stop-color="#e7e18c"/><stop offset="0.2292" stop-color="#886759"/><stop offset="0.2327" stop-color="#967973"/><stop offset="0.2433" stop-color="#f6f3f2"/><stop offset="0.2539" stop-color="#ffffff"/><stop offset="0.3984" stop-color="#ffffff"/><stop offset="0.4372" stop-color="#a18781"/><stop offset="0.4619" stop-color="#846157"/><stop offset="0.4937" stop-color="#c1af77"/><stop offset="0.5395" stop-color="#fcfe98"/><stop offset="0.6065" stop-color="#78e47e"/><stop offset="0.6946" stop-color="#00cb68"/><stop offset="0.7546" stop-color="#00b2b3"/><stop offset="0.8709" stop-color="#0197fd"/><stop offset="1.0014" stop-color="#0e7ce2"/></linearGradient>
<linearGradient id="h25" x1="0" x2="1" y1="0" y2="0"><stop offset="0.0000" stop-color="#0098fe"/><stop offset="0.0071" stop-color="#0098fe"/><stop offset="0.0106" stop-color="#333399"/><stop offset="0.1199" stop-color="#30399f"/><stop offset="0.1516" stop-color="#1177dd"/><stop offset="0.1693" stop-color="#0196fc"/><stop offset="0.1869" stop-color="#009ef0"/><stop offset="0.2045" stop-color="#00c284"/><stop offset="0.2080" stop-color="#00cb69"/><stop offset="0.2151" stop-color="#2cd56f"/><stop offset="0.2221" stop-color="#6ee27c"/><stop offset="0.2292" stop-color="#f8fe98"/><stop offset="0.2433" stop-color="#836156"/><stop offset="0.2574" stop-color="#faf9f9"/><stop offset="0.4020" stop-color="#fbfafa"/><stop offset="0.4478" stop-color="#957771"/><stop offset="0.4690" stop-color="#805c54"/><stop offset="0.5042" stop-color="#cec07f"/><stop offset="0.5395" stop-color="#fdff99"/><stop offset="0.6347" stop-color="#56dd77"/><stop offset="0.7017" stop-color="#00cb68"/><stop offset="0.7616" stop-color="#00b1b7"/><stop offset="0.8745" stop-color="#0197fd"/><stop offset="1.0014" stop-color="#0e7de3"/></linearGradient>
<linearGradient id="h26" x1="0" x2="1" y1="0" y2="0"><stop offset="0.0000" stop-color="#0098fe"/><stop offset="0.0071" stop-color="#0098fe"/><stop offset="0.0106" stop-color="#333399"/><stop offset="0.1340" stop-color="#303aa0"/><stop offset="0.1657" stop-color="#1078de"/><stop offset="0.1834" stop-color="#0197fd"/><stop offset="0.2010" stop-color="#009eef"/><stop offset="0.2186" stop-color="#00c382"/><stop offset="0.2221" stop-color="#00cc67"/><stop offset="0.2292" stop-color="#2fd56f"/><stop offset="0.2362" stop-color="#70e27c"/><stop offset="0.2433" stop-color="#feff99"/><stop offset="0.2574" stop-color="#815e55"/><stop offset="0.2715" stop-color="#fdfcfc"/><stop offset="0.4055" stop-color="#fdfcfc"/><stop offset="0.4513" stop-color="#967872"/><stop offset="0.4690" stop-color="#805d55"/><stop offset="0.4866" stop-color="#987b61"/><stop offset="0.5219" stop-color="#e2da89"/><stop offset="0.5395" stop-color="#feff99"/><stop offset="0.6559" stop-color="#40d973"/><stop offset="0.7087" stop-color="#00cb6a"/><stop offset="0.7757" stop-color="#00aec0"/><stop offset="0.8780" stop-color="#0197fd"/><stop offset="1.0014" stop-color="#0e7de3"/></linearGradient>
<linearGradient id="h27" x1="0" x2="1" y1="0" y2="0"><stop offset="0.0000" stop-color="#0198fe"/><stop offset="0.0071" stop-color="#0198fe"/><stop offset="0.0106" stop-color="#333399"/><stop offset="0.1481" stop-color="#303aa0"/><stop offset="0.1798" stop-color="#1178de"/><stop offset="0.1975" stop-color="#0196fc"/><stop offset="0.2151" stop-color="#009eef"/><stop offset="0.2327" stop-color="#00c382"/><stop offset="0.2362" stop-color="#00cb68"/><stop offset="0.2433" stop-color="#2ed56f"/><stop offset="0.2504" stop-color="#6fe27c"/><stop offset="0.2574" stop-color="#fcfe98"/><stop offset="0.2715" stop-color="#825f55"/><stop offset="0.2856" stop-color="#fcfbfb"/><stop offset="0.4161" stop-color="#fcfcfb"/><stop offset="0.4267" stop-color="#d9cfcc"/><stop offset="0.4690" stop-color="#825e57"/><stop offset="0.5007" stop-color="#a88f6a"/><stop offset="0.5430" stop-color="#f6f494"/><stop offset="0.5536" stop-color="#f0fc96"/><stop offset="0.6735" stop-color="#30d670"/><stop offset="0.7158" stop-color="#00c96e"/><stop offset="0.7934" stop-color="#00abca"/><stop offset="0.8815" stop-color="#0197fd"/><stop offset="1.0014" stop-color="#0e7ee4"/></linearGradient>
<linearGradient id="h28" x1="0" x2="1" y1="0" y2="0"><stop offset="0.0000" stop-color="#0198fe"/><stop offset="0.0071" stop-color="#0198fe"/><stop offset="0.0106" stop-color="#333399"/><stop offset="0.1657" stop-color="#31389e"/><stop offset="0.2010" stop-color="#0d7fe5"/><stop offset="0.2151" stop-color="#0296fc"/><stop offset="0.2327" stop-color="#009ef1"/><stop offset="0.2504" stop-color="#00c08a"/><stop offset="0.2539" stop-color="#00c96f"/><stop offset="0.2609" stop-color="#25d36d"/><stop offset="0.2680" stop-color="#66e07a"/><stop offset="0.2750" stop-color="#e7fa94"/><stop offset="0.2786" stop-color="#eae48e"/><stop offset="0.2891" stop-color="#8b6a5a"/><stop offset="0.2927" stop-color="#94766f"/><stop offset="0.3032" stop-color="#f3efef"/><stop offset="0.3103" stop-color="#ffffff"/><stop offset="0.4302" stop-color="#faf9f8"/><stop offset="0.4443" stop-color="#cbbdb9"/><stop offset="0.4795" stop-color="#805d55"/><stop offset="0.5254" stop-color="#c4b379"/><stop offset="0.5606" stop-color="#fdfd98"/><stop offset="0.6241" stop-color="#88e781"/><stop offset="0.7228" stop-color="#00c96e"/><stop offset="0.8145" stop-color="#00a8d3"/><stop offset="0.8921" stop-color="#0296fc"/><stop offset="1.0014" stop-color="#0d80e6"/></linearGradient>
<linearGradient id="h29" x1="0" x2="1" y1="0" y2="0"><stop offset="0.0000" stop-color="#0198fe"/><stop offset="0.0071" stop-color="#0198fe"/><stop offset="0.0106" stop-color="#333399"/><stop offset="0.1869" stop-color="#30399f"/><stop offset="0.2186" stop-color="#1177dd"/><stop offset="0.2362" stop-color="#0196fc"/><stop offset="0.2539" stop-color="#009ef0"/><stop offset="0.2715" stop-color="#00c186"/><stop offset="0.2750" stop-color="#00ca6b"/><stop offset="0.2821" stop-color="#2ad46e"/><stop offset="0.2891" stop-color="#6be17b"/><stop offset="0.2962" stop-color="#f3fd97"/><stop offset="0.3032" stop-color="#c5b57a"/><stop offset="0.3103" stop-color="#866458"/><stop offset="0.3173" stop-color="#b9a5a1"/><stop offset="0.3244" stop-color="#f8f6f6"/><stop offset="0.3914" stop-color="#ffffff"/><stop offset="0.4408" stop-color="#ffffff"/><stop offset="0.4654" stop-color="#baa7a3"/><stop offset="0.4937" stop-color="#825e55"/><stop offset="0.5748" stop-color="#fefe98"/><stop offset="0.6241" stop-color="#9ceb85"/><stop offset="0.7334" stop-color="#00cb6a"/><stop offset="0.8322" stop-color="#00a6d9"/><stop offset="0.8992" stop-color="#0196fc"/><stop offset="1.0014" stop-color="#0c81e7"/></linearGradient>
<linearGradient id="h30" x1="0" x2="1" y1="0" y2="0"><stop offset="0.0000" stop-color="#0197fd"/><stop offset="0.0071" stop-color="#0197fd"/><stop offset="0.0106" stop-color="#333399"/><stop offset="0.2045" stop-color="#2f3ba1"/><stop offset="0.2362" stop-color="#0f7be1"/><stop offset="0.2539" stop-color="#0197fd"/><stop offset="0.2715" stop-color="#00a0e9"/><stop offset="0.2927" stop-color="#04cd67"/><stop offset="0.2997" stop-color="#38d771"/><stop offset="0.3068" stop-color="#84e680"/><stop offset="0.3103" stop-color="#caf48e"/><stop offset="0.3138" stop-color="#f7f495"/><stop offset="0.3244" stop-color="#987b61"/><stop offset="0.3279" stop-color="#87655e"/><stop offset="0.3420" stop-color="#ffffff"/><stop offset="0.4443" stop-color="#ffffff"/><stop offset="0.4795" stop-color="#ad9691"/><stop offset="0.5007" stop-color="#825e57"/><stop offset="0.5853" stop-color="#fbfe98"/><stop offset="0.6382" stop-color="#91e983"/><stop offset="0.7405" stop-color="#00cb69"/><stop offset="0.7793" stop-color="#00b8a1"/><stop offset="0.8921" stop-color="#0099fe"/><stop offset="1.0014" stop-color="#0c81e7"/></linearGradient>
<linearGradient id="h31" x1="0" x2="1" y1="0" y2="0"><stop offset="0.0000" stop-color="#0197fd"/><stop offset="0.0071" stop-color="#0197fd"/><stop offset="0.0106" stop-color="#333399"/><stop offset="0.2186" stop-color="#2f3ba1"/><stop offset="0.2504" stop-color="#0f7be1"/><stop offset="0.2680" stop-color="#0197fd"/><stop offset="0.2856" stop-color="#00a0ea"/><stop offset="0.3068" stop-color="#04cd67"/><stop offset="0.3138" stop-color="#37d771"/><stop offset="0.3209" stop-color="#82e680"/><stop offset="0.3244" stop-color="#c9f48e"/><stop offset="0.3279" stop-color="#f8f595"/><stop offset="0.3385" stop-color="#997c62"/><stop offset="0.3420" stop-color="#86645d"/><stop offset="0.3561" stop-color="#ffffff"/><stop offset="0.4478" stop-color="#ffffff"/><stop offset="0.4654" stop-color="#c9b9b6"/><stop offset="0.5078" stop-color="#825f57"/><stop offset="0.5853" stop-color="#fbfa97"/><stop offset="0.6982" stop-color="#3dd872"/><stop offset="0.7475" stop-color="#00ca6c"/><stop offset="0.7863" stop-color="#00b6a9"/><stop offset="0.9027" stop-color="#0197fd"/><stop offset="1.0014" stop-color="#0d80e6"/></linearGradient>
<linearGradient id="h32" x1="0" x2="1" y1="0" y2="0"><stop offset="0.0000" stop-color="#0197fd"/><stop offset="0.0071" stop-color="#0197fd"/><stop offset="0.0106" stop-color="#333399"/><stop offset="0.2327" stop-color="#30399f"/><stop offset="0.2645" stop-color="#1177dd"/><stop offset="0.2821" stop-color="#0196fc"/><stop offset="0.2997" stop-color="#009ef0"/><stop offset="0.3173" stop-color="#00c186"/><stop offset="0.3209" stop-color="#00ca6b"/><stop offset="0.3279" stop-color="#2ad46e"/><stop offset="0.3350" stop-color="#6be17b"/><stop offset="0.3420" stop-color="#f3fd97"/><stop offset="0.3491" stop-color="#c5b57a"/><stop offset="0.3561" stop-color="#866457"/><stop offset="0.3632" stop-color="#b9a5a1"/><stop offset="0.3702" stop-color="#f8f6f6"/><stop offset="0.4584" stop-color="#fdfcfc"/><stop offset="0.4654" stop-color="#cdbfbc"/><stop offset="0.4795" stop-color="#a48a85"/><stop offset="0.5183" stop-color="#815e55"/><stop offset="0.5677" stop-color="#dcd386"/><stop offset="0.5924" stop-color="#feff99"/><stop offset="0.6946" stop-color="#4ddb75"/><stop offset="0.7546" stop-color="#00c96e"/><stop offset="0.8004" stop-color="#00b1b6"/><stop offset="0.9062" stop-color="#0197fd"/><stop offset="1.0014" stop-color="#0d7ee4"/></linearGradient>
<linearGradient id="h33" x1="0" x2="1" y1="0" y2="0"><stop offset="0.0000" stop-color="#0197fd"/><stop offset="0.0071" stop-color="#0197fd"/><stop offset="0.0106" stop-color="#333399"/><stop offset="0.2504" stop-color="#2f3ca2"/><stop offset="0.2821" stop-color="#0f7be1"/><stop offset="0.2997" stop-color="#0197fd"/><stop offset="0.3173" stop-color="#00a1e8"/><stop offset="0.3385" stop-color="#05cd67"/><stop offset="0.3491" stop-color="#5bde78"/><stop offset="0.3526" stop-color="#88e781"/><stop offset="0.3561" stop-color="#cff58f"/><stop offset="0.3597" stop-color="#f5f293"/><stop offset="0.3702" stop-color="#967860"/><stop offset="0.3738" stop-color="#896861"/><stop offset="0.3879" stop-color="#ffffff"/><stop offset="0.4690" stop-color="#fdfdfd"/><stop offset="0.4795" stop-color="#bba9a4"/><stop offset="0.4972" stop-color="#90716a"/><stop offset="0.5183" stop-color="#815e55"/><stop offset="0.5395" stop-color="#9d8264"/><stop offset="0.5994" stop-color="#fefe98"/><stop offset="0.7193" stop-color="#35d771"/><stop offset="0.7616" stop-color="#00c96e"/><stop offset="0.8181" stop-color="#00aec1"/><stop offset="0.9097" stop-color="#0197fd"/><stop offset="1.0014" stop-color="#0d7fe5"/></linearGradient>
<linearGradient id="h34" x1="0" x2="1" y1="0" y2="0"><stop offset="0.0000" stop-color="#0197fd"/><stop offset="0.0071" stop-color="#0197fd"/><stop offset="0.0106" stop-color="#333399"/><stop offset="0.2645" stop-color="#303aa0"/><stop offset="0.2962" stop-color="#1078de"/><stop offset="0.3138" stop-color="#0197fd"/><stop offset="0.3315" stop-color="#009fee"/><stop offset="0.3491" stop-color="#00c381"/><stop offset="0.3526" stop-color="#00cc66"/><stop offset="0.3597" stop-color="#30d670"/><stop offset="0.3667" stop-color="#72e37d"/><stop offset="0.3738" stop-color="#ffff99"/><stop offset="0.3879" stop-color="#805c54"/><stop offset="0.4020" stop-color="#fefdfd"/><stop offset="0.4760" stop-color="#ffffff"/><stop offset="0.4937" stop-color="#ac9590"/><stop offset="0.5183" stop-color="#815d55"/><stop offset="0.6100" stop-color="#fefd98"/><stop offset="0.7228" stop-color="#3cd872"/><stop offset="0.7687" stop-color="#00ca6d"/><stop offset="0.8216" stop-color="#00aebf"/><stop offset="0.9133" stop-color="#0196fc"/><stop offset="1.0014" stop-color="#0c80e6"/></linearGradient>
<linearGradient id="h35" x1="0" x2="1" y1="0" y2="0"><stop offset="0.0000" stop-color="#0197fd"/><stop offset="0.0071" stop-color="#0197fd"/><stop offset="0.0106" stop-color="#333399"/><stop offset="0.2786" stop-color="#30389e"/><stop offset="0.3138" stop-color="#0d7fe5"/><stop offset="0.3279" stop-color="#0296fc"/><stop offset="0.3456" stop-color="#009ef1"/><stop offset="0.3632" stop-color="#00c089"/><stop offset="0.3667" stop-color="#00c96f"/><stop offset="0.3738" stop-color="#26d46e"/><stop offset="0.3808" stop-color="#67e17b"/><stop offset="0.3879" stop-color="#eafb95"/><stop offset="0.3914" stop-color="#e9e38d"/><stop offset="0.4020" stop-color="#8a695a"/><stop offset="0.4055" stop-color="#957771"/><stop offset="0.4161" stop-color="#f4f1f0"/><stop offset="0.4231" stop-color="#ffffff"/><stop offset="0.4795" stop-color="#f9f7f7"/><stop offset="0.5007" stop-color="#a68c87"/><stop offset="0.5254" stop-color="#815e56"/><stop offset="0.6171" stop-color="#fbfa97"/><stop offset="0.6347" stop-color="#e1f993"/><stop offset="0.7334" stop-color="#39d771"/><stop offset="0.7757" stop-color="#00ca6b"/><stop offset="0.8181" stop-color="#00b2b4"/><stop offset="0.9133" stop-color="#0197fd"/><stop offset="1.0014" stop-color="#0d7fe5"/></linearGradient>
<linearGradient id="h36" x1="0" x2="1" y1="0" y2="0"><stop offset="0.0000" stop-color="#0197fd"/><stop offset="0.0071" stop-color="#0197fd"/><stop offset="0.0106" stop-color="#333399"/><stop offset="0.2962" stop-color="#2f3ca2"/><stop offset="0.3279" stop-color="#0e7ce2"/><stop offset="0.3456" stop-color="#0197fd"/><stop offset="0.3632" stop-color="#00a1e7"/><stop offset="0.3843" stop-color="#06cd67"/><stop offset="0.3949" stop-color="#5ddf79"/><stop offset="0.3984" stop-color="#8ce882"/><stop offset="0.4020" stop-color="#d3f690"/><stop offset="0.4055" stop-color="#f3ef92"/><stop offset="0.4161" stop-color="#94765f"/><stop offset="0.4196" stop-color="#8b6a63"/><stop offset="0.4302" stop-color="#eae4e3"/><stop offset="0.4337" stop-color="#ffffff"/><stop offset="0.4831" stop-color="#f9f7f6"/><stop offset="0.5007" stop-color="#b39d99"/><stop offset="0.5183" stop-color="#8b6b64"/><stop offset="0.5395" stop-color="#846156"/><stop offset="0.5712" stop-color="#bba874"/><stop offset="0.6312" stop-color="#fafe98"/><stop offset="0.7299" stop-color="#4bdb75"/><stop offset="0.7828" stop-color="#00ca6b"/><stop offset="0.8322" stop-color="#00afbe"/><stop offset="0.9168" stop-color="#0197fd"/><stop offset="1.0014" stop-color="#0e7de3"/></linearGradient>
<linearGradient id="h37" x1="0" x2="1" y1="0" y2="0"><stop offset="0.0000" stop-color="#0196fc"/><stop offset="0.0071" stop-color="#0196fc"/><stop offset="0.0106" stop-color="#333399"/><stop offset="0.3103" stop-color="#2f3aa0"/><stop offset="0.3420" stop-color="#1079df"/><stop offset="0.3597" stop-color="#0197fd"/><stop offset="0.3773" stop-color="#009fed"/><stop offset="0.3949" stop-color="#00c47f"/><stop offset="0.3984" stop-color="#01cc66"/><stop offset="0.4055" stop-color="#32d670"/><stop offset="0.4126" stop-color="#76e47e"/><stop offset="0.4196" stop-color="#fdfc98"/><stop offset="0.4337" stop-color="#815e56"/><stop offset="0.4478" stop-color="#ffffff"/><stop offset="0.4901" stop-color="#ffffff"/><stop offset="0.5148" stop-color="#ad9691"/><stop offset="0.5395" stop-color="#836059"/><stop offset="0.5606" stop-color="#977961"/><stop offset="0.6347" stop-color="#fbfa97"/><stop offset="0.6523" stop-color="#e2f993"/><stop offset="0.7652" stop-color="#21d36d"/><stop offset="0.7898" stop-color="#00ca6d"/><stop offset="0.8463" stop-color="#00acc6"/><stop offset="0.9238" stop-color="#0296fc"/><stop offset="1.0014" stop-color="#0d7fe5"/></linearGradient>
<linearGradient id="h38" x1="0" x2="1" y1="0" y2="0"><stop offset="0.0000" stop-color="#0196fc"/><stop offset="0.0071" stop-color="#0196fc"/><stop offset="0.0106" stop-color="#333399"/><stop offset="0.3244" stop-color="#30389e"/><stop offset="0.3561" stop-color="#1176dc"/><stop offset="0.3702" stop-color="#0294fa"/><stop offset="0.3914" stop-color="#009ef0"/><stop offset="0.4090" stop-color="#00c188"/><stop offset="0.4126" stop-color="#00ca6d"/><stop offset="0.4196" stop-color="#28d46e"/><stop offset="0.4267" stop-color="#69e17b"/><stop offset="0.4337" stop-color="#eefc96"/><stop offset="0.4372" stop-color="#e7e08c"/><stop offset="0.4478" stop-color="#886759"/><stop offset="0.4513" stop-color="#977a73"/><stop offset="0.4619" stop-color="#f6f3f3"/><stop offset="0.4725" stop-color="#ffffff"/><stop offset="0.4866" stop-color="#faf9f8"/><stop offset="0.5501" stop-color="#84625b"/><stop offset="0.5677" stop-color="#91725d"/><stop offset="0.6453" stop-color="#fefd98"/><stop offset="0.7722" stop-color="#22d36d"/><stop offset="0.7969" stop-color="#00ca6c"/><stop offset="0.8322" stop-color="#00b4af"/><stop offset="0.9238" stop-color="#0197fd"/><stop offset="1.0014" stop-color="#0d7fe5"/></linearGradient>
<linearGradient id="h39" x1="0" x2="1" y1="0" y2="0"><stop offset="0.0000" stop-color="#0196fc"/><stop offset="0.0071" stop-color="#0196fc"/><stop offset="0.0106" stop-color="#333399"/><stop offset="0.3385" stop-color="#31379d"/><stop offset="0.3738" stop-color="#0e7de3"/><stop offset="0.3914" stop-color="#0197fd"/><stop offset="0.4090" stop-color="#00a1e6"/><stop offset="0.4302" stop-color="#08ce68"/><stop offset="0.4408" stop-color="#5fdf79"/><stop offset="0.4443" stop-color="#91e983"/><stop offset="0.4478" stop-color="#d8f791"/><stop offset="0.4513" stop-color="#f1ed91"/><stop offset="0.4619" stop-color="#92735e"/><stop offset="0.4654" stop-color="#8d6d66"/><stop offset="0.4725" stop-color="#c4b4b0"/><stop offset="0.5324" stop-color="#ad9691"/><stop offset="0.5677" stop-color="#815e55"/><stop offset="0.6559" stop-color="#feff99"/><stop offset="0.7652" stop-color="#3cd872"/><stop offset="0.8075" stop-color="#00c96f"/><stop offset="0.8427" stop-color="#00b1b8"/><stop offset="0.9309" stop-color="#0197fd"/><stop offset="1.0014" stop-color="#0d7fe5"/></linearGradient>
<linearGradient id="h40" x1="0" x2="1" y1="0" y2="0"><stop offset="0.0000" stop-color="#0296fc"/><stop offset="0.0071" stop-color="#0296fc"/><stop offset="0.0106" stop-color="#333399"/><stop offset="0.3561" stop-color="#2f3ca2"/><stop offset="0.3879" stop-color="#0f7be1"/><stop offset="0.4055" stop-color="#0197fd"/><stop offset="0.4231" stop-color="#00a1e8"/><stop offset="0.4443" stop-color="#05cd67"/><stop offset="0.4549" stop-color="#5bde78"/><stop offset="0.4584" stop-color="#88e781"/><stop offset="0.4619" stop-color="#cff58f"/><stop offset="0.4654" stop-color="#f5f293"/><stop offset="0.4760" stop-color="#967860"/><stop offset="0.4795" stop-color="#896861"/><stop offset="0.4866" stop-color="#beaba7"/><stop offset="0.5465" stop-color="#a88f8a"/><stop offset="0.5818" stop-color="#826056"/><stop offset="0.6700" stop-color="#fcfe98"/><stop offset="0.7863" stop-color="#33d670"/><stop offset="0.8216" stop-color="#00ca6b"/><stop offset="0.8568" stop-color="#00b2b5"/><stop offset="0.9415" stop-color="#0197fd"/><stop offset="1.0014" stop-color="#0b84ea"/></linearGradient>
<linearGradient id="h41" x1="0" x2="1" y1="0" y2="0"><stop offset="0.0000" stop-color="#0296fc"/><stop offset="0.0071" stop-color="#0296fc"/><stop offset="0.0106" stop-color="#333399"/><stop offset="0.3667" stop-color="#303aa0"/><stop offset="0.3984" stop-color="#1178de"/><stop offset="0.4161" stop-color="#0196fc"/><stop offset="0.4337" stop-color="#009eef"/><stop offset="0.4513" stop-color="#00c382"/><stop offset="0.4549" stop-color="#00cb68"/><stop offset="0.4619" stop-color="#2ed56f"/><stop offset="0.4690" stop-color="#6fe27c"/><stop offset="0.4760" stop-color="#fcfe98"/><stop offset="0.4901" stop-color="#876558"/><stop offset="0.4937" stop-color="#977a73"/><stop offset="0.4972" stop-color="#b5a09c"/><stop offset="0.5606" stop-color="#a08680"/><stop offset="0.5924" stop-color="#836056"/><stop offset="0.6805" stop-color="#fcfe98"/><stop offset="0.8004" stop-color="#31d670"/><stop offset="0.8357" stop-color="#00ca6d"/><stop offset="0.8745" stop-color="#00b0ba"/><stop offset="0.9485" stop-color="#0198fe"/><stop offset="1.0014" stop-color="#0987ed"/></linearGradient>
<linearGradient id="h42" x1="0" x2="1" y1="0" y2="0"><stop offset="0.0000" stop-color="#0296fc"/><stop offset="0.0071" stop-color="#0296fc"/><stop offset="0.0106" stop-color="#333399"/><stop offset="0.3773" stop-color="#31379d"/><stop offset="0.4126" stop-color="#0d7ee4"/><stop offset="0.4267" stop-color="#0296fc"/><stop offset="0.4443" stop-color="#009ef1"/><stop offset="0.4619" stop-color="#00bf8c"/><stop offset="0.4690" stop-color="#0ace68"/><stop offset="0.4795" stop-color="#63e07a"/><stop offset="0.4866" stop-color="#e2f993"/><stop offset="0.4901" stop-color="#eee990"/><stop offset="0.5042" stop-color="#84625a"/><stop offset="0.5078" stop-color="#a18681"/><stop offset="0.5113" stop-color="#b09995"/><stop offset="0.5748" stop-color="#997c76"/><stop offset="0.6030" stop-color="#836156"/><stop offset="0.6700" stop-color="#e6e08c"/><stop offset="0.6911" stop-color="#fcfe98"/><stop offset="0.8181" stop-color="#29d46e"/><stop offset="0.8498" stop-color="#00c970"/><stop offset="0.8886" stop-color="#00b0bb"/><stop offset="0.9591" stop-color="#0197fd"/><stop offset="1.0014" stop-color="#0888ee"/></linearGradient>
<linearGradient id="h43" x1="0" x2="1" y1="0" y2="0"><stop offset="0.0000" stop-color="#0295fb"/><stop offset="0.0071" stop-color="#0295fb"/><stop offset="0.0106" stop-color="#333399"/><stop offset="0.3914" stop-color="#2f3ba1"/><stop offset="0.4231" stop-color="#0f7be1"/><stop offset="0.4408" stop-color="#0197fd"/><stop offset="0.4584" stop-color="#00a0ea"/><stop offset="0.4795" stop-color="#04cd67"/><stop offset="0.4866" stop-color="#37d771"/><stop offset="0.4937" stop-color="#81e680"/><stop offset="0.4972" stop-color="#c8f48e"/><stop offset="0.5007" stop-color="#f9f796"/><stop offset="0.5148" stop-color="#8c6c5b"/><stop offset="0.5183" stop-color="#8e6f68"/><stop offset="0.5219" stop-color="#a9918c"/><stop offset="0.5889" stop-color="#92736d"/><stop offset="0.6135" stop-color="#846257"/><stop offset="0.6664" stop-color="#d6cb83"/><stop offset="0.7017" stop-color="#fbfe98"/><stop offset="0.8392" stop-color="#1dd26c"/><stop offset="0.8604" stop-color="#00cb6a"/><stop offset="0.9062" stop-color="#00aec0"/><stop offset="0.9661" stop-color="#0197fd"/><stop offset="1.0014" stop-color="#078bf1"/></linearGradient>
<linearGradient id="h44" x1="0" x2="1" y1="0" y2="0"><stop offset="0.0000" stop-color="#0295fb"/><stop offset="0.0071" stop-color="#0295fb"/><stop offset="0.0106" stop-color="#333399"/><stop offset="0.4020" stop-color="#30399f"/><stop offset="0.4337" stop-color="#1177dd"/><stop offset="0.4513" stop-color="#0196fc"/><stop offset="0.4690" stop-color="#009ef0"/><stop offset="0.4866" stop-color="#00c285"/><stop offset="0.4901" stop-color="#00cb6a"/><stop offset="0.4972" stop-color="#2bd56f"/><stop offset="0.5042" stop-color="#6ce27c"/><stop offset="0.5113" stop-color="#f5fd97"/><stop offset="0.5183" stop-color="#cfc17f"/><stop offset="0.5289" stop-color="#815e55"/><stop offset="0.5324" stop-color="#987b75"/><stop offset="0.5395" stop-color="#a28882"/><stop offset="0.6065" stop-color="#886760"/><stop offset="0.6206" stop-color="#836056"/><stop offset="0.6417" stop-color="#a18766"/><stop offset="0.6735" stop-color="#d4c882"/><stop offset="0.7123" stop-color="#fafe98"/><stop offset="0.8674" stop-color="#07cd67"/><stop offset="0.9309" stop-color="#00a9d0"/><stop offset="0.9732" stop-color="#0198fe"/><stop offset="1.0014" stop-color="#068ef4"/></linearGradient>
<linearGradient id="h45" x1="0" x2="1" y1="0" y2="0"><stop offset="0.0000" stop-color="#0295fb"/><stop offset="0.0071" stop-color="#0295fb"/><stop offset="0.0106" stop-color="#333399"/><stop offset="0.4126" stop-color="#31379d"/><stop offset="0.4478" stop-color="#0e7de3"/><stop offset="0.4654" stop-color="#0197fd"/><stop offset="0.4831" stop-color="#00a2e5"/><stop offset="0.5042" stop-color="#08ce68"/><stop offset="0.5148" stop-color="#60df79"/><stop offset="0.5183" stop-color="#94ea84"/><stop offset="0.5219" stop-color="#dbf892"/><stop offset="0.5254" stop-color="#f3ef92"/><stop offset="0.5395" stop-color="#90715d"/><stop offset="0.5430" stop-color="#88665f"/><stop offset="0.5465" stop-color="#9b7f79"/><stop offset="0.6206" stop-color="#826058"/><stop offset="0.6488" stop-color="#997c62"/><stop offset="0.6735" stop-color="#cabb7c"/><stop offset="0.7193" stop-color="#feff99"/><stop offset="0.8850" stop-color="#00cc66"/><stop offset="0.9344" stop-color="#00acc5"/><stop offset="0.9838" stop-color="#0197fd"/><stop offset="1.0014" stop-color="#0491f7"/></linearGradient>
<linearGradient id="h46" x1="0" x2="1" y1="0" y2="0"><stop offset="0.0000" stop-color="#0295fb"/><stop offset="0.0071" stop-color="#0295fb"/><stop offset="0.0106" stop-color="#333399"/><stop offset="0.4267" stop-color="#31379d"/><stop offset="0.4619" stop-color="#0e7de3"/><stop offset="0.4795" stop-color="#0197fd"/><stop offset="0.4972" stop-color="#00a2e5"/><stop offset="0.5183" stop-color="#08ce68"/><stop offset="0.5289" stop-color="#60df79"/><stop offset="0.5324" stop-color="#94ea84"/><stop offset="0.5360" stop-color="#dbf892"/><stop offset="0.5395" stop-color="#f3f093"/><stop offset="0.5571" stop-color="#825f57"/><stop offset="0.5606" stop-color="#957872"/><stop offset="0.6382" stop-color="#856357"/><stop offset="0.6629" stop-color="#a18666"/><stop offset="0.6911" stop-color="#d4c882"/><stop offset="0.7299" stop-color="#fbfe98"/><stop offset="0.8850" stop-color="#0dcf69"/><stop offset="0.9027" stop-color="#00c776"/><stop offset="0.9556" stop-color="#00a8d1"/><stop offset="0.9979" stop-color="#0198fe"/><stop offset="1.0014" stop-color="#0197fd"/></linearGradient>
<linearGradient id="h47" x1="0" x2="1" y1="0" y2="0"><stop offset="0.0000" stop-color="#0295fb"/><stop offset="0.0071" stop-color="#0295fb"/><stop offset="0.0106" stop-color="#333399"/><stop offset="0.4443" stop-color="#2f3ba1"/><stop offset="0.4760" stop-color="#0f7be1"/><stop offset="0.4937" stop-color="#0197fd"/><stop offset="0.5113" stop-color="#00a0ea"/><stop offset="0.5324" stop-color="#04cd67"/><stop offset="0.5395" stop-color="#37d771"/><stop offset="0.5465" stop-color="#81e680"/><stop offset="0.5501" stop-color="#c8f48e"/><stop offset="0.5536" stop-color="#faf896"/><stop offset="0.5712" stop-color="#896859"/><stop offset="0.5818" stop-color="#90716a"/><stop offset="0.6453" stop-color="#846257"/><stop offset="0.6805" stop-color="#b09a6e"/><stop offset="0.7123" stop-color="#e3db8a"/><stop offset="0.7405" stop-color="#f8fe98"/><stop offset="0.8780" stop-color="#1fd26c"/><stop offset="0.9062" stop-color="#00c96f"/><stop offset="0.9767" stop-color="#00a5dc"/><stop offset="1.0014" stop-color="#009cf5"/></linearGradient>
<linearGradient id="h48" x1="0" x2="1" y1="0" y2="0"><stop offset="0.0000" stop-color="#0295fb"/><stop offset="0.0071" stop-color="#0295fb"/><stop offset="0.0106" stop-color="#333399"/><stop offset="0.4584" stop-color="#303aa0"/><stop offset="0.4901" stop-color="#1178de"/><stop offset="0.5078" stop-color="#0196fc"/><stop offset="0.5254" stop-color="#009eef"/><stop offset="0.5430" stop-color="#00c382"/><stop offset="0.5465" stop-color="#00cb68"/><stop offset="0.5536" stop-color="#2ed56f"/><stop offset="0.5606" stop-color="#6fe27c"/><stop offset="0.5677" stop-color="#fcfe98"/><stop offset="0.5889" stop-color="#815e56"/><stop offset="0.5959" stop-color="#8a6a63"/><stop offset="0.6488" stop-color="#846257"/><stop offset="0.6911" stop-color="#b09a6f"/><stop offset="0.7299" stop-color="#ede88f"/><stop offset="0.7475" stop-color="#fcfe98"/><stop offset="0.8780" stop-color="#27d46e"/><stop offset="0.9097" stop-color="#00ca6b"/><stop offset="0.9979" stop-color="#00a1e7"/><stop offset="1.0014" stop-color="#00a0e9"/></linearGradient>
<linearGradient id="h49" x1="0" x2="1" y1="0" y2="0"><stop offset="0.0000" stop-color="#0295fb"/><stop offset="0.0071" stop-color="#0295fb"/><stop offset="0.0106" stop-color="#333399"/><stop offset="0.4725" stop-color="#30389e"/><stop offset="0.5078" stop-color="#0d7fe5"/><stop offset="0.5219" stop-color="#0296fc"/><stop offset="0.5395" stop-color="#009ef1"/><stop offset="0.5571" stop-color="#00c089"/><stop offset="0.5606" stop-color="#00c96f"/><stop offset="0.5677" stop-color="#26d46e"/><stop offset="0.5748" stop-color="#67e17b"/><stop offset="0.5818" stop-color="#e9fb95"/><stop offset="0.5853" stop-color="#f1ec91"/><stop offset="0.6030" stop-color="#886759"/><stop offset="0.6488" stop-color="#856357"/><stop offset="0.6841" stop-color="#9b7f63"/><stop offset="0.7546" stop-color="#fdff99"/><stop offset="0.8815" stop-color="#29d46e"/><stop offset="0.9168" stop-color="#00ca6d"/><stop offset="1.0014" stop-color="#00a4de"/></linearGradient>
<linearGradient id="h50" x1="0" x2="1" y1="0" y2="0"><stop offset="0.0000" stop-color="#0294fa"/><stop offset="0.0071" stop-color="#0294fa"/><stop offset="0.0106" stop-color="#333399"/><stop offset="0.4866" stop-color="#31379d"/><stop offset="0.5219" stop-color="#0e7ce2"/><stop offset="0.5395" stop-color="#0197fd"/><stop offset="0.5571" stop-color="#00a1e6"/><stop offset="0.5783" stop-color="#07cd67"/><stop offset="0.5889" stop-color="#5edf79"/><stop offset="0.5924" stop-color="#90e983"/><stop offset="0.5959" stop-color="#d7f791"/><stop offset="0.5994" stop-color="#f6f494"/><stop offset="0.6206" stop-color="#815d56"/><stop offset="0.6946" stop-color="#9b7f63"/><stop offset="0.7616" stop-color="#fefe99"/><stop offset="0.8921" stop-color="#22d36d"/><stop offset="0.9203" stop-color="#00cb6a"/><stop offset="0.9626" stop-color="#00b5aa"/><stop offset="1.0014" stop-color="#00a7d4"/></linearGradient>
<linearGradient id="h51" x1="0" x2="1" y1="0" y2="0"><stop offset="0.0000" stop-color="#0294fa"/><stop offset="0.0071" stop-color="#0294fa"/><stop offset="0.0106" stop-color="#333399"/><stop offset="0.5042" stop-color="#2f3ba1"/><stop offset="0.5360" stop-color="#0f7ae0"/><stop offset="0.5536" stop-color="#0197fd"/><stop offset="0.5712" stop-color="#00a0eb"/><stop offset="0.5853" stop-color="#00bc97"/><stop offset="0.5924" stop-color="#03cd67"/><stop offset="0.5994" stop-color="#35d771"/><stop offset="0.6065" stop-color="#7ee57f"/><stop offset="0.6135" stop-color="#fbfa97"/><stop offset="0.6347" stop-color="#856257"/><stop offset="0.7087" stop-color="#a08566"/><stop offset="0.7722" stop-color="#feff99"/><stop offset="0.8850" stop-color="#37d771"/><stop offset="0.9274" stop-color="#00ca6b"/><stop offset="0.9697" stop-color="#00b4ad"/><stop offset="1.0014" stop-color="#00abc8"/></linearGradient>
<linearGradient id="h52" x1="0" x2="1" y1="0" y2="0"><stop offset="0.0000" stop-color="#0294fa"/><stop offset="0.0071" stop-color="#0294fa"/><stop offset="0.0106" stop-color="#333399"/><stop offset="0.5183" stop-color="#30399f"/><stop offset="0.5501" stop-color="#1178de"/><stop offset="0.5677" stop-color="#0196fc"/><stop offset="0.5853" stop-color="#009eef"/><stop offset="0.6030" stop-color="#00c283"/><stop offset="0.6065" stop-color="#00cb68"/><stop offset="0.6135" stop-color="#2ed56f"/><stop offset="0.6206" stop-color="#6fe27c"/><stop offset="0.6276" stop-color="#fbfe98"/><stop offset="0.6488" stop-color="#896859"/><stop offset="0.7228" stop-color="#a28867"/><stop offset="0.7863" stop-color="#fbfe98"/><stop offset="0.8850" stop-color="#46da74"/><stop offset="0.9415" stop-color="#00ca6c"/><stop offset="0.9838" stop-color="#00b6a8"/><stop offset="1.0014" stop-color="#00b2b4"/></linearGradient>
<linearGradient id="h53" x1="0" x2="1" y1="0" y2="0"><stop offset="0.0000" stop-color="#0294fa"/><stop offset="0.0071" stop-color="#0294fa"/><stop offset="0.0106" stop-color="#333399"/><stop offset="0.5324" stop-color="#30389e"/><stop offset="0.5677" stop-color="#0d7fe5"/><stop offset="0.5818" stop-color="#0196fc"/><stop offset="0.5994" stop-color="#009ef1"/><stop offset="0.6171" stop-color="#00c089"/><stop offset="0.6206" stop-color="#00c96e"/><stop offset="0.6276" stop-color="#26d46e"/><stop offset="0.6347" stop-color="#67e17b"/><stop offset="0.6417" stop-color="#eafb95"/><stop offset="0.6453" stop-color="#f1ed91"/><stop offset="0.6629" stop-color="#8e6e5c"/><stop offset="0.7405" stop-color="#aa926b"/><stop offset="0.7969" stop-color="#ffff99"/><stop offset="0.8886" stop-color="#4ddb75"/><stop offset="0.9520" stop-color="#00cb69"/><stop offset="0.9979" stop-color="#00b8a3"/><stop offset="1.0014" stop-color="#00b7a4"/></linearGradient>
<linearGradient id="h54" x1="0" x2="1" y1="0" y2="0"><stop offset="0.0000" stop-color="#0394fa"/><stop offset="0.0071" stop-color="#0394fa"/><stop offset="0.0106" stop-color="#333399"/><stop offset="0.5465" stop-color="#31379d"/><stop offset="0.5818" stop-color="#0e7de3"/><stop offset="0.5994" stop-color="#0197fd"/><stop offset="0.6171" stop-color="#00a2e5"/><stop offset="0.6382" stop-color="#08ce68"/><stop offset="0.6488" stop-color="#5fdf79"/><stop offset="0.6523" stop-color="#93e983"/><stop offset="0.6559" stop-color="#daf892"/><stop offset="0.6594" stop-color="#f6f394"/><stop offset="0.6770" stop-color="#93745e"/><stop offset="0.7546" stop-color="#ac956c"/><stop offset="0.8110" stop-color="#fbfe98"/><stop offset="0.8956" stop-color="#51dc76"/><stop offset="0.9661" stop-color="#00ca6c"/><stop offset="1.0014" stop-color="#00bb99"/></linearGradient>
<linearGradient id="h55" x1="0" x2="1" y1="0" y2="0"><stop offset="0.0000" stop-color="#0394fa"/><stop offset="0.0071" stop-color="#0394fa"/><stop offset="0.0106" stop-color="#333399"/><stop offset="0.5642" stop-color="#2f3ba1"/><stop offset="0.5959" stop-color="#0f7be1"/><stop offset="0.6135" stop-color="#0197fd"/><stop offset="0.6312" stop-color="#00a0ea"/><stop offset="0.6523" stop-color="#04cd67"/><stop offset="0.6594" stop-color="#37d771"/><stop offset="0.6664" stop-color="#82e680"/><stop offset="0.6700" stop-color="#c9f48e"/><stop offset="0.6735" stop-color="#faf996"/><stop offset="0.6911" stop-color="#977a61"/><stop offset="0.7687" stop-color="#af986e"/><stop offset="0.8216" stop-color="#ffff99"/><stop offset="0.9062" stop-color="#4fdc76"/><stop offset="0.9732" stop-color="#01cc66"/><stop offset="1.0014" stop-color="#00bf8c"/></linearGradient>
<linearGradient id="h56" x1="0" x2="1" y1="0" y2="0"><stop offset="0.0000" stop-color="#0394fa"/><stop offset="0.0071" stop-color="#0394fa"/><stop offset="0.0106" stop-color="#333399"/><stop offset="0.5783" stop-color="#303aa0"/><stop offset="0.6100" stop-color="#1078de"/><stop offset="0.6276" stop-color="#0197fd"/><stop offset="0.6453" stop-color="#009fee"/><stop offset="0.6629" stop-color="#00c381"/><stop offset="0.6664" stop-color="#00cc67"/><stop offset="0.6735" stop-color="#2fd56f"/><stop offset="0.6805" stop-color="#71e37d"/><stop offset="0.6876" stop-color="#ffff99"/><stop offset="0.7052" stop-color="#9c8064"/><stop offset="0.7828" stop-color="#b19c6f"/><stop offset="0.8357" stop-color="#fbfe98"/><stop offset="0.9133" stop-color="#54dd77"/><stop offset="0.9520" stop-color="#1dd26c"/><stop offset="0.9908" stop-color="#00ca6d"/><stop offset="1.0014" stop-color="#00c57b"/></linearGradient>
<linearGradient id="h57" x1="0" x2="1" y1="0" y2="0"><stop offset="0.0000" stop-color="#0393f9"/><stop offset="0.0071" stop-color="#0393f9"/><stop offset="0.0106" stop-color="#333399"/><stop offset="0.5959" stop-color="#2f3aa0"/><stop offset="0.6276" stop-color="#1079df"/><stop offset="0.6453" stop-color="#0197fd"/><stop offset="0.6629" stop-color="#009fec"/><stop offset="0.6805" stop-color="#00c47e"/><stop offset="0.6841" stop-color="#01cc66"/><stop offset="0.6911" stop-color="#33d670"/><stop offset="0.6982" stop-color="#78e47e"/><stop offset="0.7052" stop-color="#fdfc98"/><stop offset="0.7193" stop-color="#ae976d"/><stop offset="0.7299" stop-color="#a68d69"/><stop offset="0.8004" stop-color="#bdab75"/><stop offset="0.8463" stop-color="#fcfe98"/><stop offset="0.9274" stop-color="#53dd77"/><stop offset="0.9697" stop-color="#19d16b"/><stop offset="1.0014" stop-color="#00cc66"/></linearGradient>
<linearGradient id="h58" x1="0" x2="1" y1="0" y2="0"><stop offset="0.0000" stop-color="#0393f9"/><stop offset="0.0071" stop-color="#0393f9"/><stop offset="0.0106" stop-color="#333399"/><stop offset="0.6135" stop-color="#2f3ba1"/><stop offset="0.6453" stop-color="#0f7ae0"/><stop offset="0.6629" stop-color="#0197fd"/><stop offset="0.6805" stop-color="#00a0ea"/><stop offset="0.6946" stop-color="#00bc96"/><stop offset="0.7017" stop-color="#03cd67"/><stop offset="0.7087" stop-color="#36d771"/><stop offset="0.7158" stop-color="#7fe57f"/><stop offset="0.7193" stop-color="#c6f48e"/><stop offset="0.7228" stop-color="#fbfa97"/><stop offset="0.7370" stop-color="#af986e"/><stop offset="0.8145" stop-color="#c7b87b"/><stop offset="0.8533" stop-color="#fefe98"/><stop offset="0.9344" stop-color="#5bde78"/><stop offset="0.9873" stop-color="#17d16b"/><stop offset="1.0014" stop-color="#0bce68"/></linearGradient>
<linearGradient id="h59" x1="0" x2="1" y1="0" y2="0"><stop offset="0.0000" stop-color="#0393f9"/><stop offset="0.0071" stop-color="#0393f9"/><stop offset="0.0106" stop-color="#333399"/><stop offset="0.6276" stop-color="#31389e"/><stop offset="0.6629" stop-color="#0d7fe5"/><stop offset="0.6770" stop-color="#0296fc"/><stop offset="0.6946" stop-color="#009ef1"/><stop offset="0.7123" stop-color="#00c089"/><stop offset="0.7158" stop-color="#00c96f"/><stop offset="0.7228" stop-color="#25d36d"/><stop offset="0.7299" stop-color="#66e07a"/><stop offset="0.7370" stop-color="#e9fb95"/><stop offset="0.7405" stop-color="#f1ee92"/><stop offset="0.7511" stop-color="#baa674"/><stop offset="0.8286" stop-color="#d4c882"/><stop offset="0.8604" stop-color="#feff99"/><stop offset="0.9133" stop-color="#8ee882"/><stop offset="0.9979" stop-color="#19d16b"/><stop offset="1.0014" stop-color="#16d06a"/></linearGradient>
<linearGradient id="h60" x1="0" x2="1" y1="0" y2="0"><stop offset="0.0000" stop-color="#0393f9"/><stop offset="0.0071" stop-color="#0393f9"/><stop offset="0.0106" stop-color="#333399"/><stop offset="0.6453" stop-color="#2f3ca2"/><stop offset="0.6770" stop-color="#0f7ce2"/><stop offset="0.6946" stop-color="#0197fd"/><stop offset="0.7123" stop-color="#00a1e8"/><stop offset="0.7334" stop-color="#06cd67"/><stop offset="0.7440" stop-color="#5bde78"/><stop offset="0.7475" stop-color="#89e781"/><stop offset="0.7511" stop-color="#d0f690"/><stop offset="0.7546" stop-color="#f8f695"/><stop offset="0.7652" stop-color="#c5b479"/><stop offset="0.8322" stop-color="#d7cc84"/><stop offset="0.8639" stop-color="#ffff99"/><stop offset="0.9203" stop-color="#8ae882"/><stop offset="1.0014" stop-color="#20d26c"/></linearGradient>
<linearGradient id="h61" x1="0" x2="1" y1="0" y2="0"><stop offset="0.0000" stop-color="#0393f9"/><stop offset="0.0071" stop-color="#0393f9"/><stop offset="0.0106" stop-color="#333399"/><stop offset="0.6594" stop-color="#2f3ba1"/><stop offset="0.6911" stop-color="#0f7be1"/><stop offset="0.7087" stop-color="#0197fd"/><stop offset="0.7264" stop-color="#00a0e9"/><stop offset="0.7475" stop-color="#05cd67"/><stop offset="0.7581" stop-color="#59de78"/><stop offset="0.7616" stop-color="#85e781"/><stop offset="0.7652" stop-color="#ccf58f"/><stop offset="0.7687" stop-color="#f9f896"/><stop offset="0.7757" stop-color="#d2c581"/><stop offset="0.8322" stop-color="#dcd286"/><stop offset="0.8674" stop-color="#fefe98"/><stop offset="0.9309" stop-color="#7ce57f"/><stop offset="1.0014" stop-color="#2bd56f"/></linearGradient>
<linearGradient id="h62" x1="0" x2="1" y1="0" y2="0"><stop offset="0.0000" stop-color="#0393f9"/><stop offset="0.0071" stop-color="#0393f9"/><stop offset="0.0106" stop-color="#333399"/><stop offset="0.6700" stop-color="#2f3ca2"/><stop offset="0.7017" stop-color="#0e7ce2"/><stop offset="0.7193" stop-color="#0197fd"/><stop offset="0.7370" stop-color="#00a1e7"/><stop offset="0.7581" stop-color="#06cd67"/><stop offset="0.7687" stop-color="#5ddf79"/><stop offset="0.7722" stop-color="#8ce882"/><stop offset="0.7757" stop-color="#d3f690"/><stop offset="0.7793" stop-color="#f7f595"/><stop offset="0.7863" stop-color="#dbd185"/><stop offset="0.8427" stop-color="#e8e18c"/><stop offset="0.8674" stop-color="#fefe99"/><stop offset="0.9062" stop-color="#a2ec86"/><stop offset="0.9520" stop-color="#5edf79"/><stop offset="1.0014" stop-color="#2fd56f"/></linearGradient>
<linearGradient id="h63" x1="0" x2="1" y1="0" y2="0"><stop offset="0.0000" stop-color="#0393f9"/><stop offset="0.0071" stop-color="#0393f9"/><stop offset="0.0106" stop-color="#333399"/><stop offset="0.6770" stop-color="#31379d"/><stop offset="0.7123" stop-color="#0e7de3"/><stop offset="0.7299" stop-color="#0197fd"/><stop offset="0.7475" stop-color="#00a2e5"/><stop offset="0.7687" stop-color="#08ce68"/><stop offset="0.7793" stop-color="#60df79"/><stop offset="0.7828" stop-color="#94ea84"/><stop offset="0.7863" stop-color="#dbf892"/><stop offset="0.7898" stop-color="#f5f394"/><stop offset="0.7934" stop-color="#e2d989"/><stop offset="0.8463" stop-color="#e9e38d"/><stop offset="0.8745" stop-color="#fcfe98"/><stop offset="0.9133" stop-color="#9aeb85"/><stop offset="0.9626" stop-color="#55dd77"/><stop offset="1.0014" stop-color="#33d670"/></linearGradient>
</defs>
<g shape-rendering="crispEdges">
<rect x="397.2" y="16.10" width="283.59999999999997" height="5.26" fill="url(#h63)"/>
<rect x="397.2" y="20.16" width="283.59999999999997" height="6.33" fill="url(#h62)"/>
<rect x="397.2" y="25.29" width="283.59999999999997" height="6.33" fill="url(#h61)"/>
<rect x="397.2" y="30.42" width="283.59999999999997" height="6.33" fill="url(#h60)"/>
<rect x="397.2" y="35.55" width="283.59999999999997" height="6.33" fill="url(#h59)"/>
<rect x="397.2" y="40.68" width="283.59999999999997" height="6.33" fill="url(#h58)"/>
<rect x="397.2" y="45.81" width="283.59999999999997" height="6.33" fill="url(#h57)"/>
<rect x="397.2" y="50.94" width="283.59999999999997" height="6.33" fill="url(#h56)"/>
<rect x="397.2" y="56.07" width="283.59999999999997" height="6.33" fill="url(#h55)"/>
<rect x="397.2" y="61.20" width="283.59999999999997" height="6.33" fill="url(#h54)"/>
<rect x="397.2" y="66.33" width="283.59999999999997" height="6.33" fill="url(#h53)"/>
<rect x="397.2" y="71.46" width="283.59999999999997" height="6.33" fill="url(#h52)"/>
<rect x="397.2" y="76.59" width="283.59999999999997" height="6.33" fill="url(#h51)"/>
<rect x="397.2" y="81.72" width="283.59999999999997" height="6.33" fill="url(#h50)"/>
<rect x="397.2" y="86.85" width="283.59999999999997" height="6.33" fill="url(#h49)"/>
<rect x="397.2" y="91.98" width="283.59999999999997" height="6.33" fill="url(#h48)"/>
<rect x="397.2" y="97.11" width="283.59999999999997" height="6.33" fill="url(#h47)"/>
<rect x="397.2" y="102.24" width="283.59999999999997" height="6.33" fill="url(#h46)"/>
<rect x="397.2" y="107.37" width="283.59999999999997" height="6.33" fill="url(#h45)"/>
<rect x="397.2" y="112.50" width="283.59999999999997" height="6.33" fill="url(#h44)"/>
<rect x="397.2" y="117.63" width="283.59999999999997" height="6.33" fill="url(#h43)"/>
<rect x="397.2" y="122.76" width="283.59999999999997" height="6.33" fill="url(#h42)"/>
<rect x="397.2" y="127.89" width="283.59999999999997" height="6.33" fill="url(#h41)"/>
<rect x="397.2" y="133.02" width="283.59999999999997" height="6.33" fill="url(#h40)"/>
<rect x="397.2" y="138.15" width="283.59999999999997" height="6.33" fill="url(#h39)"/>
<rect x="397.2" y="143.28" width="283.59999999999997" height="6.33" fill="url(#h38)"/>
<rect x="397.2" y="148.41" width="283.59999999999997" height="6.33" fill="url(#h37)"/>
<rect x="397.2" y="153.54" width="283.59999999999997" height="6.33" fill="url(#h36)"/>
<rect x="397.2" y="158.67" width="283.59999999999997" height="6.33" fill="url(#h35)"/>
<rect x="397.2" y="163.80" width="283.59999999999997" height="6.33" fill="url(#h34)"/>
<rect x="397.2" y="168.93" width="283.59999999999997" height="6.33" fill="url(#h33)"/>
<rect x="397.2" y="174.06" width="283.59999999999997" height="6.33" fill="url(#h32)"/>
<rect x="397.2" y="179.19" width="283.59999999999997" height="6.33" fill="url(#h31)"/>
<rect x="397.2" y="184.32" width="283.59999999999997" height="6.33" fill="url(#h30)"/>
<rect x="397.2" y="189.45" width="283.59999999999997" height="6.33" fill="url(#h29)"/>
<rect x="397.2" y="194.58" width="283.59999999999997" height="6.33" fill="url(#h28)"/>
<rect x="397.2" y="199.71" width="283.59999999999997" height="6.33" fill="url(#h27)"/>
<rect x="397.2" y="204.84" width="283.59999999999997" height="6.33" fill="url(#h26)"/>
<rect x="397.2" y="209.97" width="283.59999999999997" height="6.33" fill="url(#h25)"/>
<rect x="397.2" y="215.10" width="283.59999999999997" height="6.33" fill="url(#h24)"/>
<rect x="397.2" y="220.23" width="283.59999999999997" height="6.33" fill="url(#h23)"/>
<rect x="397.2" y="225.36" width="283.59999999999997" height="6.33" fill="url(#h22)"/>
<rect x="397.2" y="230.49" width="283.59999999999997" height="6.33" fill="url(#h21)"/>
<rect x="397.2" y="235.62" width="283.59999999999997" height="6.33" fill="url(#h20)"/>
<rect x="397.2" y="240.75" width="283.59999999999997" height="6.33" fill="url(#h19)"/>
<rect x="397.2" y="245.88" width="283.59999999999997" height="6.33" fill="url(#h18)"/>
<rect x="397.2" y="251.01" width="283.59999999999997" height="6.33" fill="url(#h17)"/>
<rect x="397.2" y="256.14" width="283.59999999999997" height="6.33" fill="url(#h16)"/>
<rect x="397.2" y="261.27" width="283.59999999999997" height="6.33" fill="url(#h15)"/>
<rect x="397.2" y="266.40" width="283.59999999999997" height="6.33" fill="url(#h14)"/>
<rect x="397.2" y="271.53" width="283.59999999999997" height="6.33" fill="url(#h13)"/>
<rect x="397.2" y="276.66" width="283.59999999999997" height="6.33" fill="url(#h12)"/>
<rect x="397.2" y="281.79" width="283.59999999999997" height="6.33" fill="url(#h11)"/>
<rect x="397.2" y="286.92" width="283.59999999999997" height="6.33" fill="url(#h10)"/>
<rect x="397.2" y="292.05" width="283.59999999999997" height="6.33" fill="url(#h9)"/>
<rect x="397.2" y="297.18" width="283.59999999999997" height="6.33" fill="url(#h8)"/>
<rect x="397.2" y="302.31" width="283.59999999999997" height="6.33" fill="url(#h7)"/>
<rect x="397.2" y="307.44" width="283.59999999999997" height="6.33" fill="url(#h6)"/>
<rect x="397.2" y="312.57" width="283.59999999999997" height="6.33" fill="url(#h5)"/>
<rect x="397.2" y="317.70" width="283.59999999999997" height="6.33" fill="url(#h4)"/>
<rect x="397.2" y="322.83" width="283.59999999999997" height="6.33" fill="url(#h3)"/>
<rect x="397.2" y="327.96" width="283.59999999999997" height="6.33" fill="url(#h2)"/>
<rect x="397.2" y="333.09" width="283.59999999999997" height="6.33" fill="url(#h1)"/>
<rect x="397.2" y="338.22" width="283.59999999999997" height="4.98" fill="url(#h0)"/>
</g>
<defs><clipPath id="clipc"><rect x="397.2" y="18.8" width="283.59999999999997" height="323.2"/></clipPath></defs>
<g clip-path="url(#clipc)">
<polyline points="418.8,18.5 419.0,20.6 419.3,23.7 419.7,27.1 420.0,30.0 420.3,32.3 420.7,34.4 421.0,36.4 421.4,38.4 421.8,40.3 422.3,42.2 422.8,44.1 423.3,46.0 423.8,48.0 424.3,50.0 424.8,52.1 425.3,54.1 425.8,56.1 426.3,58.1 426.8,60.0 427.3,62.0 427.8,63.9 428.3,65.8 428.7,67.7 429.2,69.7 429.6,71.9 430.1,74.2 430.5,76.6 430.8,79.0 431.1,81.5 431.3,84.0 431.5,86.6 431.7,89.2 431.8,91.8 431.9,94.4 432.0,97.1 432.1,100.0 432.3,103.2 432.4,106.5 432.6,110.0 432.8,113.4 433.0,116.8 433.1,120.2 433.3,123.5 433.5,126.8 433.8,130.0 434.0,133.1 434.4,136.1 434.8,138.9 435.3,141.4 436.0,143.7 436.7,145.9 437.5,148.3 438.4,150.9 439.4,153.5 440.5,156.3 441.5,159.1 442.5,162.0 443.6,165.1 444.6,168.2 445.6,171.1 446.6,173.9 447.7,176.5 448.7,179.1 449.6,181.9 450.4,184.9 451.1,188.1 451.7,191.2 452.3,194.0 452.9,196.6 453.6,198.9 454.1,201.1 454.6,203.0 455.0,204.4 455.3,205.4 455.5,206.5 455.6,208.0 455.6,210.1 455.6,212.5 455.5,215.2 455.4,218.0 455.3,221.0 455.1,224.3 454.9,227.6 454.9,230.5 455.1,232.9 455.3,235.0 455.7,237.0 456.2,239.0 456.8,241.1 457.5,243.2 458.4,245.4 459.3,247.6 460.4,250.0 461.6,252.5 462.9,254.9 464.1,257.3 465.4,259.6 466.7,261.8 467.9,263.9 469.0,265.9 469.9,267.8 470.8,269.5 471.4,271.1 471.8,272.6 471.9,273.9 471.8,275.2 471.5,276.3 470.9,277.4 470.1,278.5 469.1,279.6 468.0,280.7 466.6,281.7 465.1,282.6 463.4,283.5 461.5,284.4 459.3,285.4 456.8,286.5 454.0,287.8 451.1,289.0 448.3,290.2 445.6,291.3 443.0,292.4 440.5,293.4 438.0,294.4 435.6,295.3 433.1,296.2 430.9,297.0 429.2,297.7 428.1,298.4 427.4,298.9 426.9,299.5 426.3,300.2 425.6,301.0 424.9,301.9 424.2,302.9 423.4,303.9 422.5,304.9 421.6,306.0 420.6,307.1 419.7,308.2 418.8,309.3 417.9,310.3 417.0,311.4 416.1,312.6 415.3,313.8 414.5,315.1 413.8,316.4 413.1,317.7 412.5,319.1 411.9,320.6 411.4,322.1 410.9,323.6 410.4,325.1 409.9,326.6 409.3,328.2 408.8,330.1 408.2,332.6 407.6,335.6 407.0,338.3 406.6,340.4 406.4,341.4 406.3,341.8 406.2,341.9 406.2,342.0" fill="none" stroke="#1ec596" stroke-width="3.1" stroke-linejoin="round" stroke-linecap="round" stroke-linecap="butt"/>
</g>
<line x1="471.5" y1="249.5" x2="652.2" y2="18.5" stroke="#000" stroke-width="1.8" stroke-dasharray="6,4"/>
<text x="427.0" y="46.6" font-size="20.4" text-anchor="start" fill="#1ec596" >XAS</text>
<defs><linearGradient id="cbar" x1="0" x2="1"><stop offset="0.00" stop-color="#333399"/><stop offset="0.15" stop-color="#0099ff"/><stop offset="0.25" stop-color="#00cc66"/><stop offset="0.50" stop-color="#ffff99"/><stop offset="0.75" stop-color="#805c54"/><stop offset="1.00" stop-color="#ffffff"/></linearGradient></defs>
<rect x="597" y="316.5" width="43" height="8.5" fill="url(#cbar)"/>
<text x="592.3" y="325.5" font-size="20" text-anchor="end" fill="#fff" >Min</text>
<text x="644.6" y="325.5" font-size="20" text-anchor="start" fill="#fff" >Max</text>
<rect x="397.2" y="18.8" width="283.59999999999997" height="323.2" fill="none" stroke="#000" stroke-width="1.6"/>
<line x1="399.0" y1="18.8" x2="399.0" y2="30.5" stroke="#000" stroke-width="1.5" />
<line x1="399.0" y1="342.0" x2="399.0" y2="330.3" stroke="#000" stroke-width="1.5" />
<line x1="419.1" y1="18.8" x2="419.1" y2="24.8" stroke="#000" stroke-width="1.5" />
<line x1="419.1" y1="342.0" x2="419.1" y2="336.0" stroke="#000" stroke-width="1.5" />
<line x1="439.2" y1="18.8" x2="439.2" y2="24.8" stroke="#000" stroke-width="1.5" />
<line x1="439.2" y1="342.0" x2="439.2" y2="336.0" stroke="#000" stroke-width="1.5" />
<line x1="459.4" y1="18.8" x2="459.4" y2="24.8" stroke="#000" stroke-width="1.5" />
<line x1="459.4" y1="342.0" x2="459.4" y2="336.0" stroke="#000" stroke-width="1.5" />
<line x1="479.5" y1="18.8" x2="479.5" y2="30.5" stroke="#000" stroke-width="1.5" />
<line x1="479.5" y1="342.0" x2="479.5" y2="330.3" stroke="#000" stroke-width="1.5" />
<line x1="499.6" y1="18.8" x2="499.6" y2="24.8" stroke="#000" stroke-width="1.5" />
<line x1="499.6" y1="342.0" x2="499.6" y2="336.0" stroke="#000" stroke-width="1.5" />
<line x1="519.8" y1="18.8" x2="519.8" y2="24.8" stroke="#000" stroke-width="1.5" />
<line x1="519.8" y1="342.0" x2="519.8" y2="336.0" stroke="#000" stroke-width="1.5" />
<line x1="539.9" y1="18.8" x2="539.9" y2="24.8" stroke="#000" stroke-width="1.5" />
<line x1="539.9" y1="342.0" x2="539.9" y2="336.0" stroke="#000" stroke-width="1.5" />
<line x1="560.0" y1="18.8" x2="560.0" y2="30.5" stroke="#000" stroke-width="1.5" />
<line x1="560.0" y1="342.0" x2="560.0" y2="330.3" stroke="#000" stroke-width="1.5" />
<line x1="580.1" y1="18.8" x2="580.1" y2="24.8" stroke="#000" stroke-width="1.5" />
<line x1="580.1" y1="342.0" x2="580.1" y2="336.0" stroke="#000" stroke-width="1.5" />
<line x1="600.2" y1="18.8" x2="600.2" y2="24.8" stroke="#000" stroke-width="1.5" />
<line x1="600.2" y1="342.0" x2="600.2" y2="336.0" stroke="#000" stroke-width="1.5" />
<line x1="620.4" y1="18.8" x2="620.4" y2="24.8" stroke="#000" stroke-width="1.5" />
<line x1="620.4" y1="342.0" x2="620.4" y2="336.0" stroke="#000" stroke-width="1.5" />
<line x1="640.5" y1="18.8" x2="640.5" y2="30.5" stroke="#000" stroke-width="1.5" />
<line x1="640.5" y1="342.0" x2="640.5" y2="330.3" stroke="#000" stroke-width="1.5" />
<line x1="660.6" y1="18.8" x2="660.6" y2="24.8" stroke="#000" stroke-width="1.5" />
<line x1="660.6" y1="342.0" x2="660.6" y2="336.0" stroke="#000" stroke-width="1.5" />
<line x1="397.2" y1="313.6" x2="408.2" y2="313.6" stroke="#000" stroke-width="1.5" />
<text x="390.5" y="320.9" font-size="20" text-anchor="end" fill="#000" >779</text>
<line x1="397.2" y1="262.3" x2="408.2" y2="262.3" stroke="#000" stroke-width="1.5" />
<line x1="680.8" y1="262.3" x2="669.8" y2="262.3" stroke="#000" stroke-width="1.5" />
<text x="390.5" y="269.6" font-size="20" text-anchor="end" fill="#000" >780</text>
<line x1="397.2" y1="211.0" x2="408.2" y2="211.0" stroke="#000" stroke-width="1.5" />
<line x1="680.8" y1="211.0" x2="669.8" y2="211.0" stroke="#000" stroke-width="1.5" />
<text x="390.5" y="218.3" font-size="20" text-anchor="end" fill="#000" >781</text>
<line x1="397.2" y1="159.7" x2="408.2" y2="159.7" stroke="#000" stroke-width="1.5" />
<line x1="680.8" y1="159.7" x2="669.8" y2="159.7" stroke="#000" stroke-width="1.5" />
<text x="390.5" y="167.0" font-size="20" text-anchor="end" fill="#000" >782</text>
<line x1="397.2" y1="108.4" x2="408.2" y2="108.4" stroke="#000" stroke-width="1.5" />
<line x1="680.8" y1="108.4" x2="669.8" y2="108.4" stroke="#000" stroke-width="1.5" />
<text x="390.5" y="115.7" font-size="20" text-anchor="end" fill="#000" >783</text>
<line x1="397.2" y1="57.1" x2="408.2" y2="57.1" stroke="#000" stroke-width="1.5" />
<line x1="680.8" y1="57.1" x2="669.8" y2="57.1" stroke="#000" stroke-width="1.5" />
<text x="390.5" y="64.4" font-size="20" text-anchor="end" fill="#000" >784</text>
<text x="399.0" y="362.5" font-size="20" text-anchor="middle" fill="#000" >0</text>
<text x="479.5" y="362.5" font-size="20" text-anchor="middle" fill="#000" >2</text>
<text x="560.0" y="362.5" font-size="20" text-anchor="middle" fill="#000" >4</text>
<text x="640.5" y="362.5" font-size="20" text-anchor="middle" fill="#000" >6</text>
<text x="538.3" y="380.6" font-size="20.4" text-anchor="middle" fill="#000" >Energy transfer (eV)</text>
<text transform="translate(353.4,179.8) rotate(-90)" font-size="20.4" text-anchor="middle">Incident energy (eV)</text>
<text x="354" y="16" font-size="28.5" font-weight="bold">c</text>
<defs><clipPath id="clipd"><rect x="261.7" y="415.9" width="186.0" height="359.20000000000005"/></clipPath></defs>
<g clip-path="url(#clipd)">
<polyline points="262.0,765.3 265.0,765.4 269.2,765.5 272.5,765.3 274.5,763.0 274.8,760.6 275.2,757.5 275.5,753.9 275.9,749.9 276.2,745.9 276.5,742.0 276.8,737.7 277.1,732.7 277.4,727.7 277.6,723.1 277.9,719.7 278.9,723.4 279.2,727.0 279.5,730.8 280.0,734.0 280.7,737.0 281.5,740.3 282.4,743.6 283.3,746.8 284.2,749.6 285.0,752.0 286.2,755.2 288.1,757.9 290.2,759.0 292.9,759.2 296.1,759.8 299.3,759.5 302.3,758.3 305.1,757.6 308.2,757.1 312.6,756.9 316.0,755.8 320.1,755.8 323.0,755.0 326.0,754.7 329.5,753.5 332.7,751.4 336.6,750.4 339.7,748.8 342.9,748.0 346.0,746.1 349.5,743.2 353.0,741.7 356.5,738.3 359.4,735.2 362.8,731.9 364.2,729.1 365.9,727.3 366.8,725.3 368.1,723.3 370.0,720.0 371.1,716.9 372.6,714.0 373.8,712.3 374.9,709.6 376.3,706.3 377.4,703.1 379.0,700.4 379.9,696.6 381.1,692.7 382.4,690.2 382.9,687.1 384.2,683.1 385.0,679.1 385.8,675.7 387.2,671.6 387.8,667.4 389.2,663.2 389.9,657.8 391.1,653.3 392.2,648.6 392.6,641.5 394.3,635.6 394.5,630.7 395.8,621.9 397.3,614.9 398.2,608.5 399.7,599.8 401.1,593.7 402.5,588.0 403.7,579.6 404.3,572.8 406.5,566.3 407.7,559.7 408.3,552.7 409.4,547.0 409.5,542.5 410.2,539.0 410.7,535.8 411.4,531.7 412.3,529.0 413.7,526.1 413.5,525.1 415.3,520.3 416.5,517.7 419.9,516.9 422.0,514.9 424.0,512.7 427.0,512.1 429.6,511.8 433.0,508.1 434.4,507.6 436.4,506.1 440.4,504.1 442.6,504.4 444.2,504.6 446.7,507.1 448.0,510.1 447.4,509.6" fill="none" stroke="#d0c4c0" stroke-width="2.8" stroke-linejoin="round" stroke-linecap="round" />
<polyline points="262.0,765.3 265.0,765.4 269.2,765.5 272.5,765.3 274.5,762.5 274.8,759.7 275.2,755.9 275.5,751.6 275.9,746.9 276.2,742.3 276.5,738.0 276.8,733.5 277.1,728.5 277.4,723.5 277.6,719.0 277.9,715.7 278.9,719.2 279.2,722.9 279.5,726.6 280.0,730.0 280.7,733.2 281.5,736.8 282.4,740.5 283.3,744.1 284.2,747.3 285.0,750.0 286.3,753.7 287.4,755.9 290.1,758.1 293.0,759.1 295.7,759.1 298.7,758.8 301.8,757.1 304.8,756.4 308.2,755.1 311.6,754.8 314.4,755.1 317.9,754.2 320.4,753.3 323.3,751.1 326.3,749.9 329.8,749.3 332.5,748.2 335.7,746.5 338.6,744.1 341.7,743.6 344.5,741.3 347.8,738.0 350.8,735.3 353.3,733.0 356.4,728.5 357.1,726.9 358.4,723.8 360.2,722.6 361.6,718.9 362.8,717.3 364.1,713.4 365.0,710.0 366.8,708.0 368.3,704.0 369.5,700.5 370.2,697.5 371.5,692.9 372.8,689.1 373.8,685.4 375.3,681.4 376.0,678.1 377.4,674.9 378.3,671.0 379.0,667.5 379.6,663.8 380.8,659.9 382.3,655.6 383.1,652.3 384.3,649.8 385.4,645.0 386.9,641.2 387.7,635.0 388.4,629.4 389.8,624.0 391.2,616.2 391.8,609.6 393.0,601.4 394.2,594.0 395.1,586.8 396.7,579.5 397.6,572.8 397.9,566.4 399.7,558.9 399.5,553.8 400.7,547.1 401.2,542.6 402.3,538.8 403.2,537.1 403.6,532.3 403.6,530.4 405.3,527.9 405.9,523.4 406.0,521.2 407.1,520.3 407.9,514.2 409.1,512.1 410.3,509.2 411.4,508.6 413.7,506.0 415.6,502.6 418.0,502.3 420.8,499.4 423.2,499.8 424.7,497.0 427.9,495.7 429.7,495.4 434.1,496.4 435.2,499.7 437.7,500.8 439.1,504.5 440.0,506.0 442.1,510.2 444.4,511.2 446.0,515.3 447.6,516.2 448.2,516.9" fill="none" stroke="#a28a84" stroke-width="2.8" stroke-linejoin="round" stroke-linecap="round" />
<polyline points="262.0,765.3 265.0,765.4 269.2,765.5 272.5,765.3 274.5,762.0 274.8,758.7 275.2,754.3 275.5,749.3 275.9,744.0 276.2,738.7 276.5,734.0 276.8,729.3 277.1,724.2 277.4,719.2 277.6,714.9 277.9,711.6 278.9,715.1 279.2,718.7 279.5,722.5 280.0,726.0 280.7,729.5 281.5,733.4 282.4,737.5 283.3,741.4 284.2,745.0 285.0,748.0 286.3,752.1 287.5,754.8 290.0,757.1 293.4,757.3 296.3,757.1 298.5,756.0 301.5,755.4 303.7,753.9 305.9,752.5 309.0,751.7 311.9,751.4 314.8,750.0 317.3,748.8 320.0,747.7 323.0,747.3 325.6,745.3 328.0,745.2 330.9,743.5 333.9,741.3 336.3,739.1 339.4,737.3 341.9,734.1 344.4,731.7 346.9,727.9 349.4,723.4 351.2,721.4 352.2,719.4 354.0,716.8 355.1,715.6 356.0,712.2 357.4,709.6 358.5,706.7 360.1,704.0 360.9,702.0 362.3,697.6 363.1,694.3 364.3,690.3 365.6,687.3 366.7,682.8 367.7,678.1 368.9,673.4 369.7,667.8 370.9,662.2 372.1,656.3 373.2,650.1 374.6,643.3 375.0,635.7 376.0,630.4 377.8,622.8 379.4,614.0 380.4,609.1 382.0,601.6 383.0,593.1 384.9,587.0 386.4,580.7 388.0,573.1 389.3,566.5 389.9,558.7 391.6,552.1 393.4,545.9 394.2,541.1 395.3,535.5 395.4,529.7 397.3,525.4 398.0,520.0 398.5,516.2 399.9,512.5 401.1,507.4 402.1,505.9 404.2,503.1 404.5,500.0 406.6,496.3 408.2,494.7 409.5,492.4 412.2,488.6 415.1,487.9 417.4,486.2 420.1,485.1 422.9,487.8 424.7,489.4 427.3,490.8 429.1,492.9 431.6,497.0 435.1,501.4 435.9,501.5 437.9,506.0 438.4,507.6 440.6,509.3 441.5,511.5 442.9,513.7 443.9,518.0 445.7,519.8 448.0,523.0 448.2,521.3" fill="none" stroke="#7f5f57" stroke-width="2.8" stroke-linejoin="round" stroke-linecap="round" />
<polyline points="262.0,765.3 265.0,765.4 269.2,765.6 272.5,765.3 274.5,761.5 274.8,757.8 275.2,752.8 275.5,747.0 275.9,741.0 276.2,735.1 276.5,730.0 276.8,725.1 277.1,720.0 277.4,715.0 277.6,710.8 277.9,707.6 278.9,711.1 279.2,714.7 279.5,718.5 280.0,722.0 280.6,725.6 281.3,729.6 282.1,733.9 283.0,738.0 283.8,741.8 284.5,745.0 285.1,747.5 286.1,751.4 287.2,754.1 290.1,755.9 292.3,755.6 295.0,754.3 297.9,753.7 300.9,751.5 303.2,750.3 305.0,748.2 307.5,747.8 311.0,747.1 314.0,746.3 317.6,744.6 320.1,744.7 322.3,742.7 324.3,741.2 327.3,739.4 329.7,737.9 331.5,735.9 333.8,734.0 336.7,731.2 338.9,729.0 341.3,725.2 343.4,721.8 345.3,717.2 346.8,714.9 348.1,712.4 348.9,709.0 350.1,707.2 351.5,703.6 353.0,700.3 353.8,698.1 354.9,694.2 355.9,690.5 356.6,686.3 357.9,682.6 358.2,679.0 359.6,675.3 359.7,669.9 360.5,664.5 361.2,659.5 362.0,653.7 363.4,648.5 363.7,642.9 364.8,635.8 365.8,629.1 367.0,621.5 368.2,616.6 370.3,608.2 371.2,601.9 372.7,593.4 374.4,586.8 376.4,581.1 376.9,573.9 379.2,564.9 380.2,560.3 380.8,553.2 382.8,546.7 383.4,541.9 383.2,536.7 383.5,529.1 384.7,525.0 385.3,521.1 385.9,515.6 386.2,510.6 387.0,505.2 387.8,501.6 387.7,498.9 388.4,494.1 389.8,492.2 390.0,488.1 391.7,486.6 392.3,483.9 393.2,482.3 396.2,477.6 399.3,475.9 401.8,473.0 403.7,469.5 406.7,469.8 408.2,467.2 411.2,466.7 413.6,468.0 415.9,470.6 416.4,472.3 418.8,476.4 419.5,479.5 421.2,482.1 421.6,483.7 422.8,487.2 423.8,489.1 425.6,489.9 427.0,492.5 427.2,495.4 428.7,497.0 430.6,500.4 431.0,501.4 433.0,503.8 433.0,505.9 434.6,507.9 437.5,514.0 439.7,516.9 440.9,520.3 443.5,521.2 444.3,525.7 446.4,528.4 447.5,529.7" fill="none" stroke="#a88e6e" stroke-width="2.8" stroke-linejoin="round" stroke-linecap="round" />
<polyline points="262.0,765.3 265.0,765.5 269.2,765.6 272.5,765.3 274.3,763.5 274.5,761.0 274.8,756.8 275.2,751.2 275.5,744.7 275.9,738.0 276.2,731.6 276.5,726.0 276.8,720.9 277.1,715.7 277.4,710.8 277.6,706.6 277.9,703.6 279.0,707.0 279.2,710.6 279.6,714.4 280.0,718.0 280.5,721.7 281.2,725.9 281.9,730.3 282.6,734.6 283.3,738.6 284.0,742.0 284.6,744.8 285.2,747.3 286.3,751.2 287.6,753.7 290.2,753.8 292.6,751.5 295.7,750.1 297.6,749.7 300.0,747.4 303.2,743.1 305.6,740.6 307.8,737.7 310.7,737.8 312.7,737.4 315.5,738.3 318.6,736.4 320.7,735.1 322.6,732.5 324.8,732.0 327.3,729.6 328.8,726.5 331.1,724.6 333.2,720.4 334.8,716.8 337.2,712.2 338.1,711.3 338.6,709.1 340.0,705.6 341.4,704.3 341.9,700.9 343.1,698.5 343.8,696.5 345.2,693.5 346.2,690.5 346.8,687.0 347.7,683.2 348.3,680.4 349.6,675.8 349.9,671.9 351.0,667.3 352.1,663.1 352.8,659.0 352.8,652.9 353.8,646.8 354.5,642.6 355.4,635.3 356.8,629.9 358.2,623.3 358.6,616.0 360.1,609.1 361.5,601.2 362.6,594.6 364.0,586.4 366.2,579.1 366.9,573.1 369.2,565.8 369.5,559.4 371.2,553.8 371.5,548.2 373.3,541.2 374.2,536.6 374.2,529.3 374.8,524.2 376.1,521.2 376.7,515.8 377.7,510.3 378.9,503.6 379.0,500.4 380.6,494.9 381.2,490.0 382.1,486.4 383.6,483.9 384.2,482.4 385.5,478.6 387.6,476.4 390.0,472.2 392.8,470.7 394.5,466.9 397.2,466.4 399.5,466.1 403.3,465.4 404.7,467.8 407.1,469.7 408.3,472.4 409.9,475.6 412.5,480.3 413.5,482.7 415.6,487.6 418.8,490.0 419.8,493.3 421.1,495.5 421.4,497.8 424.2,500.8 427.0,506.1 429.0,508.3 431.1,512.3 433.0,514.7 436.2,518.5 438.7,520.7 441.3,524.4 442.3,524.8 445.4,528.5 447.1,530.0 447.6,531.1" fill="none" stroke="#cbbb7c" stroke-width="2.8" stroke-linejoin="round" stroke-linecap="round" />
<polyline points="262.0,765.3 265.0,765.5 269.2,765.7 272.5,765.3 274.3,762.8 274.5,760.0 274.8,755.4 275.2,749.2 275.5,742.2 275.9,734.8 276.2,727.9 276.5,722.0 276.8,716.7 277.1,711.5 277.4,706.6 277.6,702.5 277.9,699.5 279.0,703.0 279.3,706.6 279.6,710.4 280.0,714.0 280.5,717.7 281.0,721.8 281.6,726.2 282.2,730.5 282.9,734.5 283.5,738.0 284.1,741.0 284.8,743.7 285.5,746.1 286.9,749.8 289.0,751.6 291.2,749.7 293.7,748.0 295.1,745.8 296.8,743.4 298.9,740.4 300.1,738.3 301.9,734.6 303.5,731.7 305.1,727.6 307.1,725.8 309.6,723.6 311.5,724.1 314.6,723.3 317.5,721.8 319.4,720.5 321.9,718.0 323.6,715.8 325.1,713.3 326.9,709.8 328.3,707.4 330.4,704.3 331.6,699.9 333.2,695.8 334.3,692.9 335.1,690.3 335.7,688.0 336.5,685.0 337.9,681.6 338.2,677.5 339.2,673.5 339.9,670.0 341.4,665.5 342.0,661.0 343.0,655.8 343.7,651.7 343.8,647.9 345.6,642.4 345.8,634.9 346.6,630.4 347.8,623.9 348.8,616.5 351.0,608.4 351.4,600.4 352.8,594.0 354.0,585.9 356.5,579.1 358.0,573.4 359.4,565.2 360.5,558.4 361.5,553.3 362.7,547.9 363.9,541.5 364.8,534.8 364.6,530.8 365.1,525.9 366.1,521.2 367.0,514.4 366.9,509.3 367.3,504.9 368.2,500.2 369.8,495.2 370.2,490.9 370.3,486.7 371.4,482.9 372.8,481.6 374.4,478.8 374.6,475.4 375.4,474.4 376.8,470.4 378.8,466.5 381.1,463.1 382.7,460.5 385.4,457.3 388.3,453.4 389.9,451.9 393.3,452.1 395.7,455.8 396.7,456.6 399.3,458.1 401.6,462.8 404.5,466.6 407.2,471.0 409.4,473.2 410.9,476.7 411.7,479.8 413.6,481.1 414.6,483.3 415.4,488.0 417.4,488.5 418.8,491.7 419.6,494.8 421.1,495.9 423.2,497.6 424.3,501.8 425.8,502.2 426.6,506.4 427.9,508.6 428.9,509.5 430.2,511.7 432.5,514.0 434.0,516.9 435.7,520.5 437.7,522.8 439.3,525.5 441.2,526.4 443.0,531.1 445.3,533.8 447.4,534.4 448.3,535.6" fill="none" stroke="#95e78a" stroke-width="2.8" stroke-linejoin="round" stroke-linecap="round" />
<polyline points="262.0,765.3 265.0,765.5 269.2,765.8 272.5,765.3 274.3,762.1 274.5,759.0 274.8,754.0 275.2,747.3 275.5,739.6 275.9,731.7 276.2,724.3 276.5,718.0 276.8,712.6 277.1,707.3 277.4,702.4 277.6,698.4 277.9,695.5 279.0,699.0 279.3,702.6 279.6,706.4 280.0,710.0 280.4,713.7 280.9,717.8 281.4,722.1 281.9,726.5 282.4,730.5 283.0,734.0 283.6,737.1 284.2,740.0 284.8,742.6 286.1,746.5 288.1,748.0 290.2,745.1 291.8,742.9 293.3,740.5 295.0,737.4 297.2,732.6 298.8,728.8 299.8,726.5 301.3,722.0 302.4,718.6 303.3,714.9 303.9,712.1 305.0,708.7 306.2,706.0 307.0,704.2 309.8,705.3 311.7,705.1 314.5,704.4 317.4,705.0 319.5,703.2 320.8,700.1 322.6,697.5 324.4,694.5 326.1,689.3 327.8,686.1 328.1,682.5 328.8,680.0 330.2,678.5 331.1,675.5 331.5,672.7 332.1,669.0 333.0,667.0 334.1,663.1 334.8,659.3 336.1,656.2 336.8,652.9 338.0,650.7 339.2,646.4 339.9,639.9 341.3,635.8 342.1,629.6 342.4,623.4 343.0,617.0 343.9,609.4 344.8,599.9 346.6,594.7 346.9,585.8 348.2,579.9 348.7,572.1 350.0,565.7 351.0,558.8 350.9,552.5 352.1,547.5 353.0,540.3 353.8,534.7 354.5,530.9 354.6,525.5 355.4,519.8 355.7,515.8 356.3,510.5 357.2,503.7 358.2,500.5 359.4,494.6 359.6,490.0 360.6,487.0 361.2,484.3 361.5,480.2 362.8,476.9 363.5,475.3 363.9,471.2 365.0,469.7 365.9,465.0 366.6,463.9 367.8,459.3 369.5,457.9 369.6,454.1 371.6,450.3 373.0,447.8 374.6,444.6 376.7,444.0 379.0,439.6 380.1,438.0 382.8,439.0 384.9,438.6 386.8,435.2 388.2,436.5 389.4,440.7 392.1,444.0 393.8,448.7 396.0,452.3 398.5,454.4 401.2,458.3 403.2,463.0 405.8,466.0 407.3,469.6 410.5,474.6 411.6,476.9 413.0,479.4 414.2,481.2 415.9,482.8 417.1,484.6 418.9,488.7 419.6,490.7 421.1,492.5 422.2,495.3 424.1,497.7 424.9,498.8 425.9,502.7 427.9,504.4 428.7,505.8 430.4,508.6 431.4,513.0 432.8,513.3 434.3,516.6 436.6,520.3 438.8,524.4 441.6,526.8 443.7,530.3 445.1,532.9 447.6,535.9 447.1,537.6" fill="none" stroke="#2fd070" stroke-width="2.8" stroke-linejoin="round" stroke-linecap="round" />
<polyline points="262.0,765.3 265.0,765.6 269.2,765.8 272.5,765.3 274.1,763.4 274.5,758.0 274.8,752.6 275.2,745.3 275.5,737.0 275.9,728.5 276.2,720.6 276.5,714.0 276.8,708.4 277.1,703.0 277.4,698.2 277.6,694.3 277.9,691.5 279.0,695.0 279.3,698.6 279.7,702.4 280.0,706.0 280.4,709.7 280.7,713.8 281.1,718.1 281.6,722.4 282.0,726.5 282.5,730.0 283.0,733.1 283.6,736.1 284.2,738.9 285.4,742.9 287.9,742.9 289.3,739.8 290.8,735.9 291.6,733.4 292.4,730.3 293.2,727.0 294.3,724.7 294.8,721.8 296.0,718.8 296.7,716.9 297.8,712.9 298.2,710.2 299.4,707.1 300.1,705.5 300.8,702.5 301.8,699.8 302.9,695.7 304.2,692.5 304.9,688.1 305.6,684.9 308.2,685.2 309.3,687.6 311.0,689.4 312.7,691.5 315.8,691.2 318.0,690.3 320.0,687.7 321.6,683.6 322.3,681.3 323.5,678.7 324.4,674.4 325.2,672.6 326.1,668.3 326.3,665.7 327.9,661.3 328.2,658.8 328.9,654.6 330.2,651.6 330.4,649.0 332.8,646.4 334.4,639.3 335.1,636.3 335.9,630.9 336.6,624.6 337.1,615.8 337.9,609.0 338.8,601.1 338.7,594.1 339.2,586.4 339.8,579.9 340.6,572.9 341.7,566.0 342.8,559.5 343.4,551.8 343.7,546.9 344.7,541.7 344.9,535.5 345.1,531.6 346.5,525.5 347.1,518.8 348.2,515.3 349.0,509.2 349.1,504.6 349.2,500.7 350.7,495.6 351.8,490.3 352.0,486.4 353.2,483.0 353.5,478.7 354.5,476.0 354.9,473.8 355.9,470.8 356.5,467.1 358.2,464.4 358.8,462.2 359.1,459.0 360.2,456.6 362.3,453.3 364.1,448.2 365.7,447.3 367.1,442.7 368.5,440.5 371.1,441.1 373.4,441.9 376.0,440.9 378.0,438.1 380.7,439.0 382.3,441.5 383.8,444.3 384.7,447.9 386.3,450.0 389.4,455.6 390.8,459.4 393.4,463.7 394.7,466.7 396.9,469.7 398.8,473.4 401.1,477.7 402.4,479.9 403.8,483.5 406.5,489.0 408.7,493.1 411.2,494.9 413.3,498.6 414.2,501.9 415.3,502.8 416.9,505.6 418.0,506.4 421.4,509.8 424.1,513.6 426.5,517.0 428.1,520.7 431.1,525.9 433.6,529.4 436.8,530.9 439.2,535.5 440.5,538.6 443.8,541.7 446.5,544.6 448.3,546.5 447.1,547.6" fill="none" stroke="#14b0b8" stroke-width="2.8" stroke-linejoin="round" stroke-linecap="round" />
<polyline points="262.0,765.3 265.0,765.6 269.2,765.9 272.5,765.3 274.1,762.9 274.5,757.0 274.8,751.1 275.2,743.3 275.5,734.5 275.9,725.4 276.2,717.0 276.5,710.0 276.8,704.2 277.1,698.8 277.4,694.1 277.6,690.2 277.9,687.4 279.1,691.0 279.4,694.6 279.7,698.4 280.0,702.0 280.3,705.6 280.6,709.7 280.9,714.1 281.2,718.4 281.6,722.4 282.0,726.0 282.5,729.3 283.1,732.5 283.7,735.4 284.3,738.0 285.5,740.9 287.2,739.1 288.3,735.2 289.7,730.5 290.6,727.5 291.4,724.1 292.4,719.9 292.8,717.7 294.2,713.7 295.1,710.4 295.4,707.9 296.6,704.7 297.5,701.9 298.4,698.5 299.1,695.8 299.7,693.1 300.8,689.5 301.6,687.2 302.0,683.5 303.2,679.9 303.7,678.3 304.2,675.4 305.4,672.1 305.9,668.7 308.6,670.8 309.6,674.3 310.9,677.4 311.6,680.3 312.8,681.4 314.6,684.2 317.3,685.2 319.2,681.0 320.3,678.3 320.4,675.4 321.4,672.8 322.1,669.4 322.0,665.4 323.2,662.1 323.9,657.9 324.2,655.1 325.3,650.6 325.5,646.0 327.0,640.7 327.3,636.7 328.5,629.0 328.6,624.2 330.2,616.7 330.5,610.3 331.3,602.0 331.6,594.2 333.0,587.2 333.7,580.4 334.4,573.3 334.7,565.5 335.9,560.7 337.0,552.0 337.1,547.7 338.0,541.4 338.3,535.8 340.2,529.2 340.2,526.1 340.7,520.2 341.7,515.5 343.0,510.8 344.2,505.4 344.0,499.1 345.0,494.3 345.5,489.7 347.2,486.8 347.8,482.7 347.2,480.3 348.0,476.2 349.2,471.9 349.1,469.4 350.0,467.7 350.0,463.3 350.4,459.2 352.2,458.1 352.9,454.6 355.5,453.4 358.7,455.2 359.4,456.8 363.1,456.5 365.2,453.6 365.3,449.4 367.5,448.6 368.1,446.1 370.1,443.8 372.3,444.6 373.0,448.0 374.3,451.2 375.9,453.3 377.4,457.2 379.1,460.3 381.4,461.9 382.8,465.7 384.3,470.4 385.4,471.5 387.8,474.2 388.9,478.8 389.8,480.2 391.3,483.6 392.3,485.6 393.9,487.3 396.3,491.2 398.4,492.5 399.5,495.5 400.9,497.8 402.5,502.1 404.2,502.8 406.1,505.6 407.7,507.6 409.1,510.0 409.9,514.1 411.5,516.2 412.8,518.3 415.3,521.1 416.9,524.9 417.8,524.3 419.4,528.0 421.8,529.7 423.8,532.7 426.5,534.6 428.2,534.9 431.0,538.3 432.9,538.3 434.7,542.1 436.5,543.4 439.3,544.9 441.0,549.3 442.3,549.8 444.3,553.2 445.3,554.4 448.0,558.2 447.8,558.7" fill="none" stroke="#1f70e0" stroke-width="2.8" stroke-linejoin="round" stroke-linecap="round" />
<polyline points="262.0,765.3 265.0,765.6 269.2,765.9 272.5,765.3 274.1,763.1 274.5,757.0 274.8,750.9 275.2,742.8 275.5,733.5 275.9,724.1 276.2,715.2 276.5,708.0 276.8,702.0 277.1,696.3 277.4,691.4 277.6,687.3 277.9,684.5 279.1,688.6 279.4,692.4 279.7,696.4 280.0,700.0 280.3,703.5 280.5,707.2 280.8,711.1 281.1,715.0 281.4,718.7 281.7,722.0 282.1,725.1 282.4,728.2 282.8,731.2 283.3,733.7 284.2,736.6 286.3,733.2 287.6,729.0 288.4,726.5 289.2,723.5 290.1,720.2 291.0,716.7 291.9,713.3 292.5,709.6 293.6,707.2 294.2,704.1 295.2,701.1 296.5,698.0 296.7,694.4 297.9,691.9 298.6,688.6 299.9,684.2 300.3,681.1 301.5,677.8 302.3,674.3 303.0,672.4 304.4,667.8 305.6,665.8 308.3,666.2 309.5,669.4 310.8,671.2 311.7,674.8 313.3,676.8 314.6,678.6 317.3,677.5 318.1,673.7 319.5,669.2 319.4,665.9 319.9,663.8 320.7,659.5 321.0,657.1 321.1,654.3 321.8,651.6 321.5,646.9 322.3,644.7 322.3,640.2 322.8,635.8 324.5,630.4 325.0,622.6 325.5,616.9 327.5,609.5 327.9,600.9 329.0,594.8 330.5,586.7 330.8,580.6 331.7,572.2 333.5,565.7 334.3,560.0 335.1,553.8 335.5,546.1 336.8,543.1 336.8,536.3 337.4,532.3 337.7,527.1 339.0,521.8 339.4,515.4 341.0,512.2 341.7,506.5 342.9,500.8 342.7,496.0 343.7,491.1 344.3,487.5 345.7,484.2 345.3,481.8 346.5,477.1 347.2,474.2 348.5,469.3 349.3,466.2 350.1,466.0 351.5,461.6 352.9,460.3 355.7,459.7 358.1,461.7 359.5,463.5 361.5,465.1 363.5,469.9 365.1,471.6 366.8,472.9 368.1,475.4 370.2,478.4 372.2,480.2 374.8,482.6 376.8,485.2 378.6,486.9 380.6,491.7 382.6,493.2 384.6,494.6 386.3,497.5 387.1,499.2 389.2,503.0 390.9,503.1 393.0,506.3 394.0,507.8 396.3,512.1 397.9,512.8 400.4,516.1 402.2,519.2 403.4,522.4 405.3,524.6 407.1,527.2 409.7,529.5 411.0,531.3 413.1,532.6 415.6,534.1 417.1,535.7 417.1,538.5 418.5,541.7 418.9,543.9 420.2,546.2 421.4,549.3 423.7,550.4 425.6,552.0 428.4,554.7 430.0,555.7 431.8,556.6 434.1,558.5 435.4,561.9 437.7,565.3 440.4,567.9 442.4,571.5 446.2,573.6 447.1,575.1 447.7,576.5" fill="none" stroke="#33339a" stroke-width="3.0" stroke-linejoin="round" stroke-linecap="round" />
</g>
<line x1="307.0" y1="630.7" x2="307.0" y2="775.1" stroke="#000" stroke-width="1.6" stroke-dasharray="5,3.5"/>
<line x1="336.2" y1="515.6" x2="384.0" y2="645.0" stroke="#000" stroke-width="1.6" />
<polygon points="386.7,651.9 378.6,643.8 383.5,645.0 385.6,639.0" fill="#000" stroke="none" stroke-width="1" />
<rect x="261.7" y="415.9" width="186.0" height="359.20000000000005" fill="none" stroke="#000" stroke-width="1.5"/>
<line x1="278.6" y1="415.9" x2="278.6" y2="427.7" stroke="#000" stroke-width="1.5" />
<line x1="278.6" y1="775.1" x2="278.6" y2="763.3" stroke="#000" stroke-width="1.5" />
<line x1="295.5" y1="415.9" x2="295.5" y2="421.9" stroke="#000" stroke-width="1.5" />
<line x1="295.5" y1="775.1" x2="295.5" y2="769.1" stroke="#000" stroke-width="1.5" />
<line x1="312.4" y1="415.9" x2="312.4" y2="421.9" stroke="#000" stroke-width="1.5" />
<line x1="312.4" y1="775.1" x2="312.4" y2="769.1" stroke="#000" stroke-width="1.5" />
<line x1="329.4" y1="415.9" x2="329.4" y2="421.9" stroke="#000" stroke-width="1.5" />
<line x1="329.4" y1="775.1" x2="329.4" y2="769.1" stroke="#000" stroke-width="1.5" />
<line x1="346.3" y1="415.9" x2="346.3" y2="421.9" stroke="#000" stroke-width="1.5" />
<line x1="346.3" y1="775.1" x2="346.3" y2="769.1" stroke="#000" stroke-width="1.5" />
<line x1="363.2" y1="415.9" x2="363.2" y2="427.7" stroke="#000" stroke-width="1.5" />
<line x1="363.2" y1="775.1" x2="363.2" y2="763.3" stroke="#000" stroke-width="1.5" />
<line x1="380.1" y1="415.9" x2="380.1" y2="421.9" stroke="#000" stroke-width="1.5" />
<line x1="380.1" y1="775.1" x2="380.1" y2="769.1" stroke="#000" stroke-width="1.5" />
<line x1="397.0" y1="415.9" x2="397.0" y2="421.9" stroke="#000" stroke-width="1.5" />
<line x1="397.0" y1="775.1" x2="397.0" y2="769.1" stroke="#000" stroke-width="1.5" />
<line x1="414.0" y1="415.9" x2="414.0" y2="421.9" stroke="#000" stroke-width="1.5" />
<line x1="414.0" y1="775.1" x2="414.0" y2="769.1" stroke="#000" stroke-width="1.5" />
<line x1="430.9" y1="415.9" x2="430.9" y2="421.9" stroke="#000" stroke-width="1.5" />
<line x1="430.9" y1="775.1" x2="430.9" y2="769.1" stroke="#000" stroke-width="1.5" />
<line x1="261.7" y1="464.5" x2="272.4" y2="464.5" stroke="#000" stroke-width="1.5" />
<line x1="447.7" y1="464.5" x2="437.0" y2="464.5" stroke="#000" stroke-width="1.5" />
<line x1="261.7" y1="540.2" x2="272.4" y2="540.2" stroke="#000" stroke-width="1.5" />
<line x1="447.7" y1="540.2" x2="437.0" y2="540.2" stroke="#000" stroke-width="1.5" />
<line x1="261.7" y1="615.5" x2="272.4" y2="615.5" stroke="#000" stroke-width="1.5" />
<line x1="447.7" y1="615.5" x2="437.0" y2="615.5" stroke="#000" stroke-width="1.5" />
<line x1="261.7" y1="690.7" x2="272.4" y2="690.7" stroke="#000" stroke-width="1.5" />
<line x1="447.7" y1="690.7" x2="437.0" y2="690.7" stroke="#000" stroke-width="1.5" />
<line x1="261.7" y1="765.4" x2="272.4" y2="765.4" stroke="#000" stroke-width="1.5" />
<line x1="447.7" y1="765.4" x2="437.0" y2="765.4" stroke="#000" stroke-width="1.5" />
<text x="278.6" y="796.2" font-size="20" text-anchor="middle" fill="#000" >0</text>
<text x="363.2" y="796.2" font-size="20" text-anchor="middle" fill="#000" >1</text>
<text x="447.8" y="796.2" font-size="20" text-anchor="middle" fill="#000" >2</text>
<text x="355.7" y="814.8" font-size="20.4" text-anchor="middle" fill="#000" >Energy transfer (eV)</text>
<text transform="translate(251.3,595.5) rotate(-90)" font-size="20.4" text-anchor="middle">Intensity (arb. u.)</text>
<text x="271.3" y="491.8" font-size="20.5"><tspan font-style="italic">E</tspan><tspan font-style="italic" font-size="15.5" dx="1" dy="4">i</tspan><tspan dx="0.3" dy="-4"> (eV)</tspan></text>
<text x="271.3" y="525.0" font-size="20.4" text-anchor="start" fill="#000" >779.85</text>
<text x="385.0" y="683.3" font-size="20.6" text-anchor="start" fill="#000" >780.75</text>
<text x="233" y="412" font-size="28.5" font-weight="bold">d</text>
<defs><clipPath id="clipe"><rect x="497.0" y="416.0" width="187.0" height="359.29999999999995"/></clipPath><linearGradient id="s1g" x1="0" x2="0" y1="0" y2="1"><stop offset="0" stop-color="#a0a0d8"/><stop offset="0.5" stop-color="#cacae9"/><stop offset="1" stop-color="#f6f6fb"/></linearGradient></defs>
<g clip-path="url(#clipe)">
<path d="M496.5,771.0 L497.7,770.9 L499.3,770.9 L501.2,770.8 L503.2,770.7 L505.0,770.5 L506.6,770.3 L508.2,770.1 L509.7,769.8 L511.3,769.5 L512.9,769.1 L514.6,768.7 L516.4,768.2 L518.2,767.7 L520.1,767.0 L521.9,766.1 L523.7,765.0 L525.5,763.8 L527.3,762.3 L529.1,760.6 L530.9,758.6 L532.7,756.1 L534.5,753.3 L536.3,750.2 L538.1,747.0 L539.9,743.7 L541.7,740.3 L543.5,736.7 L545.2,733.0 L547.0,729.3 L548.8,725.7 L550.7,722.0 L552.6,718.2 L554.5,714.4 L556.2,710.9 L557.8,707.7 L559.1,704.9 L560.1,702.4 L561.0,700.2 L561.9,698.1 L563.0,696.0 L564.3,693.9 L565.7,691.9 L567.1,690.0 L568.5,688.3 L569.8,686.8 L570.9,685.5 L572.0,684.4 L573.0,683.5 L574.0,682.7 L575.0,682.0 L576.1,681.4 L577.1,680.9 L578.2,680.6 L579.3,680.3 L580.3,680.2 L581.3,680.1 L582.2,680.1 L583.1,680.2 L584.0,680.5 L585.0,681.0 L586.1,681.8 L587.3,682.9 L588.5,684.2 L589.6,685.5 L590.7,686.8 L591.6,688.0 L592.5,689.1 L593.3,690.3 L594.1,691.6 L595.0,693.0 L595.9,694.6 L596.9,696.3 L597.8,698.1 L598.8,700.0 L599.7,701.8 L600.6,703.6 L601.4,705.5 L602.3,707.3 L603.1,709.2 L604.0,711.0 L604.9,712.8 L605.9,714.6 L606.8,716.3 L607.8,718.0 L608.7,719.7 L609.6,721.3 L610.4,722.9 L611.3,724.5 L612.1,726.0 L613.0,727.5 L613.9,729.0 L614.8,730.5 L615.8,731.9 L616.7,733.3 L617.7,734.7 L618.7,736.0 L619.7,737.3 L620.8,738.6 L621.8,739.8 L623.0,741.0 L624.2,742.2 L625.5,743.4 L626.8,744.5 L628.2,745.6 L629.7,746.7 L631.2,747.7 L632.8,748.7 L634.5,749.7 L636.2,750.6 L638.0,751.5 L639.9,752.4 L641.8,753.2 L643.8,754.0 L645.7,754.8 L647.6,755.6 L649.3,756.3 L651.0,757.0 L652.6,757.7 L654.3,758.4 L656.0,759.0 L657.8,759.6 L659.8,760.1 L661.7,760.6 L663.7,761.1 L665.6,761.6 L667.5,762.0 L669.3,762.4 L671.2,762.8 L673.1,763.2 L675.0,763.5 L677.1,763.8 L679.4,764.1 L681.7,764.3 L683.6,764.5 L685.0,764.6 L685,772 L496.5,772 Z" fill="url(#s1g)" stroke="none" transform="translate(0,0)"/>
<defs><linearGradient id="s2g" x1="0" x2="0" y1="0" y2="1"><stop offset="0" stop-color="#d884b0"/><stop offset="1" stop-color="#f4dcea"/></linearGradient></defs>
<path d="M508,771.5 C511,770.5 513,761.5 516.5,761.2 C519.5,761.5 522,769 526,771 Z" fill="url(#s2g)"/>
<polyline points="507.6,703.5 509.0,712.0 510.5,726.0 512.0,745.0 513.3,760.0 514.5,769.5 517.0,771.5" fill="none" stroke="#c8863a" stroke-width="1.8" stroke-linejoin="round" stroke-linecap="round" />
<polyline points="496.5,770.5 499.8,770.5 504.4,770.4 509.7,770.3 515.1,770.2 520.0,770.0 524.3,769.7 528.5,769.4 532.5,769.0 536.4,768.6 540.0,768.2 543.3,767.8 546.4,767.4 549.2,766.9 552.1,766.5 555.0,766.0 558.1,765.6 561.2,765.2 564.2,764.7 567.2,764.2 570.0,763.6 572.6,762.9 574.9,762.1 577.2,761.2 579.4,760.1 581.7,759.0 584.0,757.7 586.4,756.4 588.7,754.9 591.1,753.2 593.4,751.4 595.8,749.4 598.2,747.1 600.5,744.7 602.8,742.3 605.0,739.7 607.1,737.0 609.1,734.2 611.0,731.2 612.8,728.4 614.4,725.7 615.8,723.2 616.9,721.0 618.0,718.7 619.0,716.5 620.2,714.0 621.6,711.3 623.0,708.5 624.5,705.6 625.9,702.7 627.2,700.0 628.3,697.5 629.3,695.1 630.2,692.8 631.1,690.4 632.0,688.0 632.9,685.6 633.9,683.3 634.8,680.9 635.8,678.2 636.8,675.0 637.9,671.2 639.1,667.0 640.3,662.5 641.5,657.8 642.8,653.0 644.1,648.1 645.4,643.0 646.8,637.8 648.2,632.5 649.5,627.2 650.8,621.8 652.1,616.3 653.4,610.7 654.7,605.1 656.0,599.5 657.3,593.9 658.7,588.2 660.0,582.5 661.3,576.7 662.6,571.0 663.9,565.0 665.1,558.7 666.3,552.5 667.5,546.8 668.4,542.0 669.1,538.3 669.6,535.6 670.0,533.2 670.5,530.9 671.0,528.0 671.7,524.5 672.4,520.8 673.1,516.8 673.8,512.9 674.5,509.0 675.1,505.2 675.7,501.4 676.3,497.6 676.9,493.8 677.5,490.0 678.1,486.2 678.7,482.5 679.3,478.8 679.9,475.0 680.5,471.0 681.1,467.1 681.7,463.2 682.4,459.2 683.1,454.5 684.0,449.0 685.1,441.7 686.5,432.8 687.9,423.6 689.1,415.6 690.0,410.0" fill="none" stroke="#8a8a8a" stroke-width="2.2" stroke-linejoin="round" stroke-linecap="round" stroke-dasharray="7,4.5" stroke-linecap="butt"/>
<polyline points="496.2,769.7 496.6,769.8 497.3,767.7 497.1,770.4 497.8,768.0 499.2,768.4 499.4,767.9 499.5,766.1 499.8,767.9 500.0,766.6 500.4,763.1 500.8,763.6 500.6,759.9 501.5,759.3 501.7,758.2 502.0,755.5 501.9,752.0 502.3,749.5 503.1,743.6 502.4,741.2 503.6,739.1 503.5,735.8 503.5,733.3 503.6,731.2 504.1,729.5 504.5,726.6 504.9,723.7 505.0,717.6 505.5,717.5 505.8,713.3 505.9,709.7 506.3,708.9 506.0,705.0 507.0,706.6 506.4,704.6 507.1,701.5 507.4,703.6 508.4,701.5 508.4,702.8 508.9,705.5 509.5,710.1 509.4,712.7 509.6,712.2 510.3,715.4 510.3,721.0 511.3,724.6 511.1,731.7 511.9,736.1 513.1,737.3 513.1,740.2 513.8,742.4 514.2,743.9 515.2,744.7 515.2,746.5 515.6,746.0 517.2,747.6 517.4,746.4 518.0,748.9 518.3,749.3 519.8,747.7 520.6,749.6 521.3,749.7 522.1,751.8 522.0,750.0 523.5,753.8 523.8,752.4 525.0,752.0 525.6,751.7 526.5,752.2 527.4,750.8 528.9,748.7 529.8,750.2 530.7,747.2 532.6,745.9 533.3,745.0 535.5,742.1 536.6,741.0 538.8,739.5 540.3,736.5 541.2,736.2 543.3,733.4 544.0,730.0 545.9,727.9 547.7,727.9 548.4,723.4 550.7,722.2 552.2,718.4 552.8,715.5 555.1,712.6 556.1,710.3 557.7,707.4 559.8,703.5 560.2,703.3 562.8,700.4 563.7,697.2 565.8,691.6 567.1,691.0 568.5,687.1 569.5,683.7 571.0,680.0 572.9,678.3 574.7,675.1 576.3,675.5 577.8,674.6 579.3,672.1 579.7,671.6 581.4,669.1 583.5,669.3 584.7,670.4 586.4,668.1 587.4,670.2 589.0,670.3 590.3,668.8 592.1,671.7 593.3,672.3 596.1,673.1 598.0,671.2 599.8,675.4 601.3,674.3 603.6,676.0 605.6,676.2 607.7,674.5 608.4,674.8 609.9,674.1 612.4,676.3 612.7,674.2 614.5,672.6 616.0,672.7 617.8,670.4 618.8,668.9 620.3,668.1 622.5,665.8 623.2,663.2 625.0,662.8 627.0,660.0 628.5,658.7 629.5,655.4 631.1,654.2 632.5,651.6 634.1,647.3 635.7,646.2 636.6,642.3 638.5,640.9 640.6,635.8 642.1,633.9 642.8,629.0 644.2,626.2 646.4,622.3 648.0,617.3 649.3,612.9 649.7,609.3 650.5,604.5 652.2,601.2 652.0,598.7 653.5,596.3 653.1,596.0 653.8,593.2 655.2,590.3 656.3,586.5 656.9,581.7 657.6,580.4 658.4,575.8 659.2,575.6 659.2,569.9 660.6,568.1 661.1,562.0 662.0,559.7 663.4,555.1 663.8,551.3 664.7,547.9 665.2,544.8 667.2,541.2 667.8,536.7 668.7,534.9 669.6,529.6 670.4,524.8 672.0,517.1 672.1,513.0 674.2,505.7 674.8,500.0 675.6,492.2 676.8,487.3 678.1,480.0 679.8,476.7 680.6,469.8 681.9,464.3 683.3,456.2 684.1,448.7 685.7,442.9 686.7,435.7 688.0,430.6 688.8,425.8 690.0,420.4" fill="none" stroke="#3fae49" stroke-width="4.6" stroke-linejoin="round" stroke-linecap="round" />
<circle cx="614.0" cy="675.8" r="3.0" fill="#3fae49"/>
<circle cx="613.3" cy="674.6" r="2.4" fill="#3fae49"/>
<circle cx="637.1" cy="643.1" r="2.4" fill="#3fae49"/>
<circle cx="611.4" cy="673.2" r="3.0" fill="#3fae49"/>
<circle cx="684.7" cy="450.9" r="2.6" fill="#3fae49"/>
<circle cx="613.5" cy="674.7" r="2.4" fill="#3fae49"/>
<circle cx="642.2" cy="627.1" r="3.1" fill="#3fae49"/>
<circle cx="658.8" cy="570.4" r="2.6" fill="#3fae49"/>
<circle cx="520.4" cy="750.3" r="2.7" fill="#3fae49"/>
<circle cx="674.0" cy="499.9" r="2.6" fill="#3fae49"/>
<circle cx="652.1" cy="607.3" r="2.9" fill="#3fae49"/>
<circle cx="558.3" cy="707.8" r="2.2" fill="#3fae49"/>
<circle cx="653.6" cy="597.0" r="3.0" fill="#3fae49"/>
<circle cx="583.9" cy="666.7" r="2.9" fill="#3fae49"/>
<circle cx="522.7" cy="754.0" r="2.7" fill="#3fae49"/>
<circle cx="588.9" cy="669.6" r="2.4" fill="#3fae49"/>
<circle cx="677.9" cy="479.2" r="2.5" fill="#3fae49"/>
<circle cx="594.2" cy="669.5" r="2.4" fill="#3fae49"/>
<circle cx="619.8" cy="668.1" r="2.8" fill="#3fae49"/>
<circle cx="611.8" cy="677.2" r="3.0" fill="#3fae49"/>
<circle cx="600.0" cy="672.4" r="2.6" fill="#3fae49"/>
<circle cx="522.3" cy="753.8" r="3.2" fill="#3fae49"/>
<circle cx="657.7" cy="579.0" r="2.4" fill="#3fae49"/>
<circle cx="588.7" cy="669.3" r="2.8" fill="#3fae49"/>
<circle cx="511.5" cy="733.4" r="3.0" fill="#3fae49"/>
<circle cx="564.5" cy="695.1" r="2.3" fill="#3fae49"/>
<circle cx="522.7" cy="750.5" r="2.8" fill="#3fae49"/>
<circle cx="580.6" cy="669.1" r="2.8" fill="#3fae49"/>
<circle cx="654.3" cy="588.6" r="2.8" fill="#3fae49"/>
<circle cx="557.1" cy="712.0" r="2.4" fill="#3fae49"/>
<circle cx="518.2" cy="749.5" r="2.8" fill="#3fae49"/>
<circle cx="682.9" cy="464.7" r="2.8" fill="#3fae49"/>
<circle cx="598.8" cy="672.4" r="2.7" fill="#3fae49"/>
<polyline points="496.5,769.5 496.8,769.4 497.2,769.3 497.6,769.1 498.1,768.9 498.6,768.6 499.0,768.0 499.3,767.3 499.7,766.6 499.9,765.7 500.2,764.7 500.5,763.3 500.8,761.6 501.1,759.4 501.4,756.8 501.7,754.0 502.0,750.9 502.3,747.9 502.6,745.0 502.9,742.2 503.1,739.4 503.3,736.5 503.5,733.7 503.8,730.9 504.0,728.0 504.3,725.0 504.5,721.9 504.8,718.8 505.0,715.8 505.3,713.1 505.6,710.7 505.9,708.6 506.2,706.6 506.6,704.9 506.9,703.5 507.3,702.7 507.6,702.6 507.9,703.2 508.3,704.4 508.7,706.1 509.0,708.3 509.4,710.9 509.8,713.7 510.2,717.1 510.7,721.3 511.1,725.8 511.6,730.3 512.1,734.4 512.6,737.7 513.1,740.1 513.6,742.0 514.1,743.5 514.7,744.7 515.3,745.7 515.9,746.7 516.6,747.5 517.3,748.1 518.1,748.6 518.9,748.9 519.6,749.3 520.4,749.7 521.1,750.3 521.8,750.9 522.6,751.6 523.3,752.2 524.1,752.5 524.9,752.6 525.8,752.4 526.7,751.9 527.6,751.2 528.6,750.4 529.7,749.4 530.9,748.2 532.2,746.8 533.7,745.3 535.2,743.5 536.8,741.6 538.4,739.7 539.9,737.7 541.4,735.7 542.9,733.5 544.3,731.3 545.8,729.0 547.3,726.7 548.8,724.2 550.3,721.6 551.8,719.0 553.3,716.2 554.8,713.4 556.3,710.6 557.8,707.7 559.3,704.8 560.8,701.7 562.3,698.7 563.8,695.6 565.3,692.6 566.8,689.8 568.3,687.0 569.8,684.3 571.3,681.6 572.8,679.0 574.3,676.7 575.8,674.8 577.3,673.2 578.8,671.8 580.3,670.7 581.8,669.8 583.3,669.2 584.8,668.8 586.3,668.7 587.7,668.9 589.1,669.3 590.5,669.9 592.0,670.5 593.7,671.2 595.6,672.0 597.6,673.0 599.7,674.1 601.8,675.1 603.8,675.9 605.7,676.3 607.4,676.3 608.9,676.1 610.4,675.7 611.8,675.0 613.2,674.2 614.7,673.3 616.2,672.2 617.7,670.9 619.2,669.5 620.7,667.9 622.2,666.2 623.7,664.4 625.2,662.5 626.7,660.4 628.2,658.2 629.6,655.9 631.1,653.5 632.6,650.9 634.1,648.2 635.6,645.5 637.1,642.5 638.6,639.5 640.1,636.3 641.6,632.9 643.1,629.2 644.7,625.1 646.2,620.9 647.7,616.7 649.0,612.7 650.2,609.0 651.1,605.8 651.9,602.9 652.5,600.1 653.1,597.5 653.6,594.8 654.3,592.0 655.0,589.1 655.8,586.2 656.5,583.3 657.3,580.4 658.1,577.3 658.9,574.0 659.7,570.5 660.6,566.9 661.4,563.1 662.3,559.3 663.1,555.5 664.0,551.7 664.9,548.2 665.7,544.8 666.6,541.5 667.5,538.0 668.4,534.0 669.4,529.5 670.4,524.2 671.5,518.4 672.6,512.1 673.7,505.7 674.9,499.2 676.0,493.0 677.2,487.0 678.4,481.0 679.6,475.0 680.8,469.1 682.0,463.1 683.2,457.0 684.4,450.5 685.7,443.4 687.1,436.2 688.3,429.6 689.3,424.0 690.0,420.0" fill="none" stroke="#000" stroke-width="2.3" stroke-linejoin="round" stroke-linecap="round" />
</g>
<rect x="497.0" y="416.0" width="187.0" height="359.29999999999995" fill="none" stroke="#000" stroke-width="1.6"/>
<line x1="507.7" y1="775.3" x2="507.7" y2="764.8" stroke="#000" stroke-width="1.5" />
<line x1="529.8" y1="775.3" x2="529.8" y2="770.1" stroke="#000" stroke-width="1.5" />
<line x1="551.8" y1="775.3" x2="551.8" y2="770.1" stroke="#000" stroke-width="1.5" />
<line x1="573.9" y1="775.3" x2="573.9" y2="770.1" stroke="#000" stroke-width="1.5" />
<line x1="595.9" y1="775.3" x2="595.9" y2="770.1" stroke="#000" stroke-width="1.5" />
<line x1="618.0" y1="775.3" x2="618.0" y2="764.8" stroke="#000" stroke-width="1.5" />
<line x1="640.0" y1="775.3" x2="640.0" y2="770.1" stroke="#000" stroke-width="1.5" />
<line x1="662.0" y1="775.3" x2="662.0" y2="770.1" stroke="#000" stroke-width="1.5" />
<line x1="684.0" y1="474.6" x2="672.5" y2="474.6" stroke="#000" stroke-width="1.5" />
<line x1="684.0" y1="533.6" x2="672.5" y2="533.6" stroke="#000" stroke-width="1.5" />
<line x1="684.0" y1="592.6" x2="672.5" y2="592.6" stroke="#000" stroke-width="1.5" />
<line x1="684.0" y1="651.6" x2="672.5" y2="651.6" stroke="#000" stroke-width="1.5" />
<line x1="684.0" y1="710.6" x2="672.5" y2="710.6" stroke="#000" stroke-width="1.5" />
<line x1="684.0" y1="769.6" x2="672.5" y2="769.6" stroke="#000" stroke-width="1.5" />
<text x="507.7" y="796.2" font-size="20" text-anchor="middle" fill="#000" >0.0</text>
<text x="618.0" y="796.2" font-size="20" text-anchor="middle" fill="#000" >0.5</text>
<text x="590.0" y="814.9" font-size="20.4" text-anchor="middle" fill="#000" >Energy transfer (eV)</text>
<text transform="translate(488.3,595.5) rotate(-90)" font-size="20.4" text-anchor="middle">Intensity (arb. u.)</text>
<line x1="507.0" y1="444.3" x2="523.4" y2="444.3" stroke="#8a8a8a" stroke-width="2.2" stroke-dasharray="6,4"/>
<text x="530.3" y="449.4" font-size="20" text-anchor="start" fill="#000" >Background</text>
<rect x="507" y="463" width="16.4" height="13.3" fill="#dc94b8"/>
<text x="530.3" y="474.8" font-size="20" text-anchor="start" fill="#000" >S2</text>
<line x1="507.0" y1="494.3" x2="523.4" y2="494.3" stroke="#000" stroke-width="2.3" />
<text x="530.3" y="500.3" font-size="20" text-anchor="start" fill="#000" >Fit</text>
<line x1="505.5" y1="519.1" x2="524.9" y2="519.1" stroke="#3fae49" stroke-width="4.2" />
<text x="530.3" y="524.2" font-size="20" text-anchor="start" fill="#000" >RIXS</text>
<rect x="507" y="536.3" width="16.4" height="13.3" fill="#9c9cd8"/>
<text x="530.3" y="549.7" font-size="20" text-anchor="start" fill="#000" >S1</text>
<line x1="507.0" y1="569.1" x2="523.4" y2="569.1" stroke="#c8863a" stroke-width="2" stroke-dasharray="6,4"/>
<text x="530.3" y="574.5" font-size="20" text-anchor="start" fill="#000" >Quasielastic</text>
<text x="506.5" y="618.3" font-size="21">Δ<tspan font-style="italic">E</tspan><tspan dx="1.5"> = </tspan><tspan dx="0.5">32 meV</tspan></text>
<text x="468" y="412" font-size="28.5" font-weight="bold">e</text>
</svg>
</body></html>
